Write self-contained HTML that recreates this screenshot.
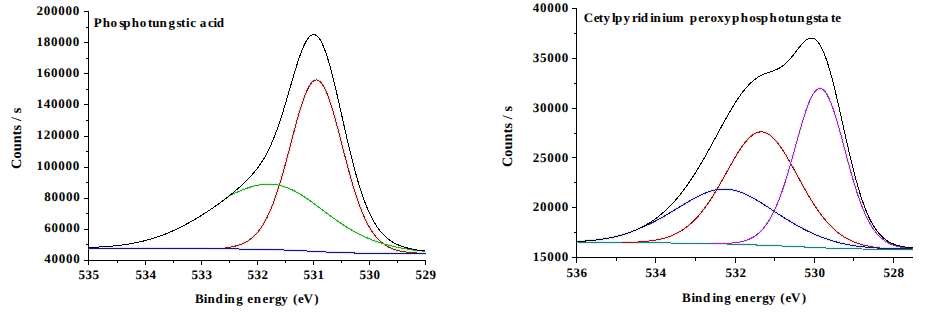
<!DOCTYPE html>
<html><head><meta charset="utf-8"><style>
html,body{margin:0;padding:0;background:#fff;width:928px;height:312px;overflow:hidden}
svg{display:block}
text{font-family:"Liberation Serif",serif;font-weight:bold}
</style></head><body>
<svg width="928" height="312" viewBox="0 0 928 312" text-rendering="geometricPrecision">
<rect width="928" height="312" fill="#fff"/>
<g shape-rendering="crispEdges">
<line x1="88.5" y1="11" x2="88.5" y2="261" stroke="#000" stroke-width="1"/>
<line x1="88" y1="260.5" x2="425.5" y2="260.5" stroke="#000" stroke-width="1"/>
<line x1="84" y1="11.5" x2="88" y2="11.5" stroke="#000" stroke-width="1"/>
<line x1="86" y1="27.5" x2="88" y2="27.5" stroke="#000" stroke-width="1"/>
<line x1="84" y1="42.5" x2="88" y2="42.5" stroke="#000" stroke-width="1"/>
<line x1="86" y1="58.5" x2="88" y2="58.5" stroke="#000" stroke-width="1"/>
<line x1="84" y1="73.5" x2="88" y2="73.5" stroke="#000" stroke-width="1"/>
<line x1="86" y1="89.5" x2="88" y2="89.5" stroke="#000" stroke-width="1"/>
<line x1="84" y1="104.5" x2="88" y2="104.5" stroke="#000" stroke-width="1"/>
<line x1="86" y1="120.5" x2="88" y2="120.5" stroke="#000" stroke-width="1"/>
<line x1="84" y1="136.5" x2="88" y2="136.5" stroke="#000" stroke-width="1"/>
<line x1="86" y1="151.5" x2="88" y2="151.5" stroke="#000" stroke-width="1"/>
<line x1="84" y1="167.5" x2="88" y2="167.5" stroke="#000" stroke-width="1"/>
<line x1="86" y1="182.5" x2="88" y2="182.5" stroke="#000" stroke-width="1"/>
<line x1="84" y1="198.5" x2="88" y2="198.5" stroke="#000" stroke-width="1"/>
<line x1="86" y1="213.5" x2="88" y2="213.5" stroke="#000" stroke-width="1"/>
<line x1="84" y1="229.5" x2="88" y2="229.5" stroke="#000" stroke-width="1"/>
<line x1="86" y1="244.5" x2="88" y2="244.5" stroke="#000" stroke-width="1"/>
<line x1="84" y1="260.5" x2="88" y2="260.5" stroke="#000" stroke-width="1"/>
<line x1="88.5" y1="261" x2="88.5" y2="265" stroke="#000" stroke-width="1"/>
<line x1="145.5" y1="261" x2="145.5" y2="265" stroke="#000" stroke-width="1"/>
<line x1="201.5" y1="261" x2="201.5" y2="265" stroke="#000" stroke-width="1"/>
<line x1="257.5" y1="261" x2="257.5" y2="265" stroke="#000" stroke-width="1"/>
<line x1="313.5" y1="261" x2="313.5" y2="265" stroke="#000" stroke-width="1"/>
<line x1="369.5" y1="261" x2="369.5" y2="265" stroke="#000" stroke-width="1"/>
<line x1="425.5" y1="261" x2="425.5" y2="265" stroke="#000" stroke-width="1"/>
<line x1="117.5" y1="261" x2="117.5" y2="263" stroke="#000" stroke-width="1"/>
<line x1="173.5" y1="261" x2="173.5" y2="263" stroke="#000" stroke-width="1"/>
<line x1="229.5" y1="261" x2="229.5" y2="263" stroke="#000" stroke-width="1"/>
<line x1="285.5" y1="261" x2="285.5" y2="263" stroke="#000" stroke-width="1"/>
<line x1="341.5" y1="261" x2="341.5" y2="263" stroke="#000" stroke-width="1"/>
<line x1="397.5" y1="261" x2="397.5" y2="263" stroke="#000" stroke-width="1"/>
<line x1="576.5" y1="8" x2="576.5" y2="258" stroke="#000" stroke-width="1"/>
<line x1="576" y1="257.5" x2="913" y2="257.5" stroke="#000" stroke-width="1"/>
<line x1="572" y1="8.5" x2="576" y2="8.5" stroke="#000" stroke-width="1"/>
<line x1="574" y1="33.5" x2="576" y2="33.5" stroke="#000" stroke-width="1"/>
<line x1="572" y1="58.5" x2="576" y2="58.5" stroke="#000" stroke-width="1"/>
<line x1="574" y1="83.5" x2="576" y2="83.5" stroke="#000" stroke-width="1"/>
<line x1="572" y1="108.5" x2="576" y2="108.5" stroke="#000" stroke-width="1"/>
<line x1="574" y1="133.5" x2="576" y2="133.5" stroke="#000" stroke-width="1"/>
<line x1="572" y1="157.5" x2="576" y2="157.5" stroke="#000" stroke-width="1"/>
<line x1="574" y1="182.5" x2="576" y2="182.5" stroke="#000" stroke-width="1"/>
<line x1="572" y1="207.5" x2="576" y2="207.5" stroke="#000" stroke-width="1"/>
<line x1="574" y1="232.5" x2="576" y2="232.5" stroke="#000" stroke-width="1"/>
<line x1="572" y1="257.5" x2="576" y2="257.5" stroke="#000" stroke-width="1"/>
<line x1="576.5" y1="258" x2="576.5" y2="263" stroke="#000" stroke-width="1"/>
<line x1="655.5" y1="258" x2="655.5" y2="263" stroke="#000" stroke-width="1"/>
<line x1="735.5" y1="258" x2="735.5" y2="263" stroke="#000" stroke-width="1"/>
<line x1="814.5" y1="258" x2="814.5" y2="263" stroke="#000" stroke-width="1"/>
<line x1="893.5" y1="258" x2="893.5" y2="263" stroke="#000" stroke-width="1"/>
<line x1="616.5" y1="258" x2="616.5" y2="261" stroke="#000" stroke-width="1"/>
<line x1="695.5" y1="258" x2="695.5" y2="261" stroke="#000" stroke-width="1"/>
<line x1="774.5" y1="258" x2="774.5" y2="261" stroke="#000" stroke-width="1"/>
<line x1="853.5" y1="258" x2="853.5" y2="261" stroke="#000" stroke-width="1"/>
</g>
<g fill="none" stroke-width="3" stroke-linejoin="round" opacity="0.45">
<path d="M225.00 247.70L225.50 247.65L226.00 247.60L226.50 247.55L227.00 247.49L227.50 247.44L228.00 247.37L228.50 247.31L229.00 247.24L229.50 247.17L230.00 247.10L230.50 247.02L231.00 246.94L231.50 246.85L232.00 246.76L232.50 246.67L233.00 246.58L233.50 246.47L234.00 246.37L234.50 246.26L235.00 246.15L235.50 246.03L236.00 245.90L236.50 245.77L237.00 245.64L237.50 245.50L238.00 245.35L238.50 245.20L239.00 245.04L239.50 244.87L240.00 244.70L240.50 244.52L241.00 244.34L241.50 244.14L242.00 243.94L242.50 243.73L243.00 243.52L243.50 243.29L244.00 243.06L244.50 242.82L245.00 242.56L245.50 242.30L246.00 242.03L246.50 241.75L247.00 241.46L247.50 241.16L248.00 240.85L248.50 240.52L249.00 240.19L249.50 239.84L250.00 239.48L250.50 239.11L251.00 238.73L251.50 238.33L252.00 237.92L252.50 237.49L253.00 237.05L253.50 236.60L254.00 236.13L254.50 235.64L255.00 235.14L255.50 234.63L256.00 234.09L256.50 233.54L257.00 232.98L257.50 232.39L258.00 231.79L258.50 231.17L259.00 230.53L259.50 229.87L260.00 229.19L260.50 228.49L261.00 227.77L261.50 227.03L262.00 226.27L262.50 225.49L263.00 224.68L263.50 223.86L264.00 223.01L264.50 222.14L265.00 221.25L265.50 220.33L266.00 219.39L266.50 218.43L267.00 217.44L267.50 216.43L268.00 215.39L268.50 214.33L269.00 213.24L269.50 212.13L270.00 210.99L270.50 209.83L271.00 208.64L271.50 207.43L272.00 206.19L272.50 204.93L273.00 203.64L273.50 202.32L274.00 200.98L274.50 199.62L275.00 198.22L275.50 196.81L276.00 195.36L276.50 193.90L277.00 192.41L277.50 190.89L278.00 189.35L278.50 187.79L279.00 186.20L279.50 184.59L280.00 182.96L280.50 181.31L281.00 179.64L281.50 177.94L282.00 176.23L282.50 174.49L283.00 172.74L283.50 170.97L284.00 169.18L284.50 167.38L285.00 165.56L285.50 163.73L286.00 161.89L286.50 160.03L287.00 158.16L287.50 156.28L288.00 154.40L288.50 152.50L289.00 150.60L289.50 148.70L290.00 146.79L290.50 144.88L291.00 142.96L291.50 141.05L292.00 139.14L292.50 137.23L293.00 135.33L293.50 133.43L294.00 131.55L294.50 129.67L295.00 127.80L295.50 125.94L296.00 124.10L296.50 122.28L297.00 120.47L297.50 118.68L298.00 116.92L298.50 115.17L299.00 113.45L299.50 111.75L300.00 110.09L300.50 108.45L301.00 106.84L301.50 105.27L302.00 103.73L302.50 102.22L303.00 100.75L303.50 99.33L304.00 97.94L304.50 96.59L305.00 95.29L305.50 94.03L306.00 92.82L306.50 91.65L307.00 90.54L307.50 89.47L308.00 88.46L308.50 87.49L309.00 86.58L309.50 85.73L310.00 84.93L310.50 84.19L311.00 83.50L311.50 82.88L312.00 82.31L312.50 81.80L313.00 81.35L313.50 80.97L314.00 80.64L314.50 80.38L315.00 80.18L315.50 80.04L316.00 79.96L316.50 79.94L317.00 79.99L317.50 80.10L318.00 80.27L318.50 80.51L319.00 80.81L319.50 81.17L320.00 81.59L320.50 82.07L321.00 82.61L321.50 83.21L322.00 83.87L322.50 84.59L323.00 85.36L323.50 86.20L324.00 87.08L324.50 88.03L325.00 89.02L325.50 90.07L326.00 91.17L326.50 92.32L327.00 93.52L327.50 94.77L328.00 96.06L328.50 97.40L329.00 98.78L329.50 100.21L330.00 101.67L330.50 103.18L331.00 104.72L331.50 106.29L332.00 107.90L332.50 109.55L333.00 111.22L333.50 112.92L334.00 114.66L334.50 116.41L335.00 118.19L335.50 120.00L336.00 121.82L336.50 123.67L337.00 125.53L337.50 127.41L338.00 129.30L338.50 131.20L339.00 133.12L339.50 135.05L340.00 136.98L340.50 138.92L341.00 140.86L341.50 142.81L342.00 144.76L342.50 146.71L343.00 148.66L343.50 150.61L344.00 152.55L344.50 154.49L345.00 156.42L345.50 158.34L346.00 160.26L346.50 162.16L347.00 164.05L347.50 165.94L348.00 167.80L348.50 169.66L349.00 171.50L349.50 173.32L350.00 175.12L350.50 176.91L351.00 178.68L351.50 180.43L352.00 182.16L352.50 183.86L353.00 185.55L353.50 187.22L354.00 188.86L354.50 190.48L355.00 192.07L355.50 193.65L356.00 195.19L356.50 196.72L357.00 198.22L357.50 199.69L358.00 201.14L358.50 202.56L359.00 203.96L359.50 205.33L360.00 206.67L360.50 207.99L361.00 209.29L361.50 210.55L362.00 211.80L362.50 213.01L363.00 214.20L363.50 215.36L364.00 216.50L364.50 217.62L365.00 218.70L365.50 219.77L366.00 220.80L366.50 221.82L367.00 222.81L367.50 223.77L368.00 224.71L368.50 225.63L369.00 226.52L369.50 227.39L370.00 228.24L370.50 229.07L371.00 229.87L371.50 230.65L372.00 231.41L372.50 232.15L373.00 232.87L373.50 233.57L374.00 234.25L374.50 234.91L375.00 235.55L375.50 236.17L376.00 236.78L376.50 237.36L377.00 237.93L377.50 238.48L378.00 239.01L378.50 239.53L379.00 240.03L379.50 240.52L380.00 240.99L380.50 241.45L381.00 241.89L381.50 242.31L382.00 242.73L382.50 243.13L383.00 243.51L383.50 243.89L384.00 244.25L384.50 244.60L385.00 244.94L385.50 245.26L386.00 245.58L386.50 245.88L387.00 246.17L387.50 246.46L388.00 246.73L388.50 246.99L389.00 247.25L389.50 247.50L390.00 247.73L390.50 247.96L391.00 248.18L391.50 248.39L392.00 248.60L392.50 248.79L393.00 248.98L393.50 249.17L394.00 249.34L394.50 249.51L395.00 249.67L395.50 249.83L396.00 249.98L396.50 250.13L397.00 250.27L397.50 250.40L398.00 250.53L398.50 250.65L399.00 250.77L399.50 250.89L400.00 250.99L400.50 251.10L401.00 251.20L401.50 251.30L402.00 251.39L402.50 251.48L403.00 251.57L403.50 251.65L404.00 251.73L404.50 251.80L405.00 251.88L405.50 251.95L406.00 252.01L406.50 252.08L407.00 252.14L407.50 252.20L408.00 252.25L408.50 252.31L409.00 252.36L409.50 252.41L410.00 252.45L410.50 252.50L411.00 252.54L411.50 252.58L412.00 252.62L412.50 252.66L413.00 252.70L413.50 252.73L414.00 252.76L414.50 252.80L415.00 252.82L415.50 252.85L416.00 252.88L416.50 252.91" stroke="#f0b0b0"/>
<path d="M222.00 201.36L222.50 200.99L223.00 200.62L223.50 200.24L224.00 199.87L224.50 199.49L225.00 199.11L225.50 198.73L226.00 198.34L226.50 197.96L227.00 197.57L227.50 197.18L228.00 196.79L228.50 196.44L229.00 196.11L229.50 195.80L230.00 195.49L230.50 195.20L231.00 194.91L231.50 194.64L232.00 194.38L232.50 194.13L233.00 193.89L233.50 193.66L234.00 193.45L234.50 193.26L235.00 193.07L235.50 192.90L236.00 192.75L236.50 192.52L237.00 192.29L237.50 192.06L238.00 191.83L238.50 191.61L239.00 191.38L239.50 191.16L240.00 190.95L240.50 190.73L241.00 190.52L241.50 190.31L242.00 190.10L242.50 189.90L243.00 189.70L243.50 189.50L244.00 189.30L244.50 189.11L245.00 188.92L245.50 188.73L246.00 188.55L246.50 188.36L247.00 188.19L247.50 188.01L248.00 187.84L248.50 187.67L249.00 187.50L249.50 187.34L250.00 187.18L250.50 187.03L251.00 186.88L251.50 186.73L252.00 186.58L252.50 186.44L253.00 186.30L253.50 186.17L254.00 186.04L254.50 185.92L255.00 185.79L255.50 185.67L256.00 185.56L256.50 185.45L257.00 185.34L257.50 185.24L258.00 185.14L258.50 185.05L259.00 184.96L259.50 184.88L260.00 184.80L260.50 184.72L261.00 184.65L261.50 184.58L262.00 184.52L262.50 184.46L263.00 184.40L263.50 184.35L264.00 184.31L264.50 184.27L265.00 184.23L265.50 184.20L266.00 184.18L266.50 184.16L267.00 184.14L267.50 184.13L268.00 184.12L268.50 184.12L269.00 184.12L269.50 184.13L270.00 184.15L270.50 184.17L271.00 184.19L271.50 184.22L272.00 184.25L272.50 184.29L273.00 184.33L273.50 184.38L274.00 184.44L274.50 184.50L275.00 184.56L275.50 184.63L276.00 184.71L276.50 184.79L277.00 184.87L277.50 184.96L278.00 185.06L278.50 185.16L279.00 185.26L279.50 185.38L280.00 185.49L280.50 185.61L281.00 185.74L281.50 185.87L282.00 186.01L282.50 186.15L283.00 186.30L283.50 186.45L284.00 186.61L284.50 186.77L285.00 186.94L285.50 187.11L286.00 187.29L286.50 187.47L287.00 187.66L287.50 187.85L288.00 188.05L288.50 188.25L289.00 188.46L289.50 188.67L290.00 188.89L290.50 189.11L291.00 189.33L291.50 189.56L292.00 189.80L292.50 190.03L293.00 190.28L293.50 190.53L294.00 190.78L294.50 191.03L295.00 191.29L295.50 191.56L296.00 191.83L296.50 192.10L297.00 192.38L297.50 192.66L298.00 192.94L298.50 193.23L299.00 193.52L299.50 193.82L300.00 194.12L300.50 194.42L301.00 194.73L301.50 195.04L302.00 195.35L302.50 195.66L303.00 195.98L303.50 196.30L304.00 196.63L304.50 196.96L305.00 197.29L305.50 197.62L306.00 197.96L306.50 198.30L307.00 198.64L307.50 198.98L308.00 199.33L308.50 199.67L309.00 200.03L309.50 200.38L310.00 200.73L310.50 201.09L311.00 201.45L311.50 201.81L312.00 202.17L312.50 202.53L313.00 202.90L313.50 203.26L314.00 203.63L314.50 204.00L315.00 204.37L315.50 204.74L316.00 205.11L316.50 205.48L317.00 205.86L317.50 206.23L318.00 206.61L318.50 206.98L319.00 207.36L319.50 207.73L320.00 208.11L320.50 208.49L321.00 208.87L321.50 209.24L322.00 209.62L322.50 210.00L323.00 210.38L323.50 210.75L324.00 211.13L324.50 211.51L325.00 211.89L325.50 212.26L326.00 212.64L326.50 213.01L327.00 213.39L327.50 213.76L328.00 214.13L328.50 214.51L329.00 214.88L329.50 215.25L330.00 215.62L330.50 215.99L331.00 216.35L331.50 216.72L332.00 217.09L332.50 217.45L333.00 217.81L333.50 218.17L334.00 218.53L334.50 218.89L335.00 219.25L335.50 219.60L336.00 219.96L336.50 220.31L337.00 220.66L337.50 221.01L338.00 221.35L338.50 221.70L339.00 222.04L339.50 222.38L340.00 222.72L340.50 223.06L341.00 223.40L341.50 223.73L342.00 224.06L342.50 224.39L343.00 224.72L343.50 225.05L344.00 225.37L344.50 225.69L345.00 226.01L345.50 226.33L346.00 226.64L346.50 226.96L347.00 227.27L347.50 227.57L348.00 227.88L348.50 228.18L349.00 228.49L349.50 228.79L350.00 229.08L350.50 229.38L351.00 229.67L351.50 229.96L352.00 230.25L352.50 230.53L353.00 230.82L353.50 231.10L354.00 231.38L354.50 231.65L355.00 231.93L355.50 232.20L356.00 232.47L356.50 232.73L357.00 233.00L357.50 233.26L358.00 233.52L358.50 233.78L359.00 234.03L359.50 234.29L360.00 234.54L360.50 234.78L361.00 235.03L361.50 235.27L362.00 235.52L362.50 235.75L363.00 235.99L363.50 236.22L364.00 236.46L364.50 236.69L365.00 236.91L365.50 237.14L366.00 237.36L366.50 237.58L367.00 237.80L367.50 238.02L368.00 238.23L368.50 238.44L369.00 238.65L369.50 238.86L370.00 239.06L370.50 239.27L371.00 239.47L371.50 239.67L372.00 239.86L372.50 240.06L373.00 240.25L373.50 240.44L374.00 240.63L374.50 240.81L375.00 241.00L375.50 241.18L376.00 241.36L376.50 241.54L377.00 241.71L377.50 241.89L378.00 242.06L378.50 242.23L379.00 242.39L379.50 242.56L380.00 242.72L380.50 242.89L381.00 243.05L381.50 243.20L382.00 243.36L382.50 243.51L383.00 243.67L383.50 243.82L384.00 243.97L384.50 244.11L385.00 244.26L385.50 244.40L386.00 244.54L386.50 244.68L387.00 244.82L387.50 244.96L388.00 245.09L388.50 245.23L389.00 245.36L389.50 245.49L390.00 245.61L390.50 245.74L391.00 245.87L391.50 245.99L392.00 246.11L392.50 246.23L393.00 246.35L393.50 246.46L394.00 246.58L394.50 246.69L395.00 246.81L395.50 246.92L396.00 247.03L396.50 247.13L397.00 247.24L397.50 247.34L398.00 247.45L398.50 247.55L399.00 247.65L399.50 247.75L400.00 247.85L400.50 247.94L401.00 248.04L401.50 248.13L402.00 248.22L402.50 248.31L403.00 248.40L403.50 248.49L404.00 248.58L404.50 248.66L405.00 248.75L405.50 248.83L406.00 248.91L406.50 248.99L407.00 249.07L407.50 249.15L408.00 249.23L408.50 249.31L409.00 249.38L409.50 249.46L410.00 249.53L410.50 249.60L411.00 249.67L411.50 249.74L412.00 249.81L412.50 249.87L413.00 249.94L413.50 250.01L414.00 250.07L414.50 250.13L415.00 250.20L415.50 250.26L416.00 250.32L416.50 250.38L417.00 250.43L417.50 250.49L418.00 250.55L418.50 250.60L419.00 250.66L419.50 250.71L420.00 250.76L420.50 250.82L421.00 250.87L421.50 250.92L422.00 250.97L422.50 251.01L423.00 251.06L423.50 251.11L424.00 251.16L424.50 251.20L425.00 251.24L425.50 251.29" stroke="#a8eca8"/>
<path d="M88.50 248.27L89.00 248.27L89.50 248.27L90.00 248.27L90.50 248.27L91.00 248.27L91.50 248.27L92.00 248.27L92.50 248.27L93.00 248.27L93.50 248.27L94.00 248.27L94.50 248.27L95.00 248.27L95.50 248.27L96.00 248.27L96.50 248.27L97.00 248.27L97.50 248.27L98.00 248.27L98.50 248.27L99.00 248.27L99.50 248.27L100.00 248.27L100.50 248.27L101.00 248.27L101.50 248.27L102.00 248.27L102.50 248.27L103.00 248.27L103.50 248.27L104.00 248.27L104.50 248.27L105.00 248.27L105.50 248.27L106.00 248.27L106.50 248.27L107.00 248.27L107.50 248.27L108.00 248.27L108.50 248.27L109.00 248.27L109.50 248.27L110.00 248.27L110.50 248.27L111.00 248.27L111.50 248.28L112.00 248.28L112.50 248.28L113.00 248.28L113.50 248.28L114.00 248.28L114.50 248.28L115.00 248.28L115.50 248.28L116.00 248.28L116.50 248.28L117.00 248.28L117.50 248.28L118.00 248.28L118.50 248.28L119.00 248.28L119.50 248.28L120.00 248.28L120.50 248.28L121.00 248.28L121.50 248.28L122.00 248.28L122.50 248.28L123.00 248.28L123.50 248.28L124.00 248.28L124.50 248.28L125.00 248.28L125.50 248.28L126.00 248.29L126.50 248.29L127.00 248.29L127.50 248.29L128.00 248.29L128.50 248.29L129.00 248.29L129.50 248.29L130.00 248.29L130.50 248.29L131.00 248.29L131.50 248.29L132.00 248.29L132.50 248.29L133.00 248.29L133.50 248.29L134.00 248.29L134.50 248.29L135.00 248.30L135.50 248.30L136.00 248.30L136.50 248.30L137.00 248.30L137.50 248.30L138.00 248.30L138.50 248.30L139.00 248.30L139.50 248.30L140.00 248.30L140.50 248.30L141.00 248.30L141.50 248.30L142.00 248.31L142.50 248.31L143.00 248.31L143.50 248.31L144.00 248.31L144.50 248.31L145.00 248.31L145.50 248.31L146.00 248.31L146.50 248.31L147.00 248.31L147.50 248.32L148.00 248.32L148.50 248.32L149.00 248.32L149.50 248.32L150.00 248.32L150.50 248.32L151.00 248.32L151.50 248.32L152.00 248.33L152.50 248.33L153.00 248.33L153.50 248.33L154.00 248.33L154.50 248.33L155.00 248.33L155.50 248.33L156.00 248.34L156.50 248.34L157.00 248.34L157.50 248.34L158.00 248.34L158.50 248.34L159.00 248.34L159.50 248.35L160.00 248.35L160.50 248.35L161.00 248.35L161.50 248.35L162.00 248.35L162.50 248.35L163.00 248.36L163.50 248.36L164.00 248.36L164.50 248.36L165.00 248.36L165.50 248.36L166.00 248.37L166.50 248.37L167.00 248.37L167.50 248.37L168.00 248.37L168.50 248.38L169.00 248.38L169.50 248.38L170.00 248.38L170.50 248.38L171.00 248.39L171.50 248.39L172.00 248.39L172.50 248.39L173.00 248.39L173.50 248.40L174.00 248.40L174.50 248.40L175.00 248.40L175.50 248.41L176.00 248.41L176.50 248.41L177.00 248.41L177.50 248.42L178.00 248.42L178.50 248.42L179.00 248.42L179.50 248.43L180.00 248.43L180.50 248.43L181.00 248.43L181.50 248.44L182.00 248.44L182.50 248.44L183.00 248.44L183.50 248.45L184.00 248.45L184.50 248.45L185.00 248.46L185.50 248.46L186.00 248.46L186.50 248.46L187.00 248.47L187.50 248.47L188.00 248.47L188.50 248.48L189.00 248.48L189.50 248.48L190.00 248.49L190.50 248.49L191.00 248.49L191.50 248.50L192.00 248.50L192.50 248.50L193.00 248.51L193.50 248.51L194.00 248.51L194.50 248.52L195.00 248.52L195.50 248.53L196.00 248.53L196.50 248.53L197.00 248.54L197.50 248.54L198.00 248.54L198.50 248.55L199.00 248.55L199.50 248.56L200.00 248.56L200.50 248.56L201.00 248.57L201.50 248.57L202.00 248.58L202.50 248.58L203.00 248.59L203.50 248.59L204.00 248.59L204.50 248.60L205.00 248.60L205.50 248.61L206.00 248.61L206.50 248.62L207.00 248.62L207.50 248.63L208.00 248.63L208.50 248.64L209.00 248.64L209.50 248.65L210.00 248.65L210.50 248.66L211.00 248.66L211.50 248.67L212.00 248.67L212.50 248.68L213.00 248.68L213.50 248.69L214.00 248.69L214.50 248.70L215.00 248.70L215.50 248.71L216.00 248.71L216.50 248.72L217.00 248.72L217.50 248.73L218.00 248.73L218.50 248.74L219.00 248.75L219.50 248.75L220.00 248.76L220.50 248.76L221.00 248.77L221.50 248.77L222.00 248.78L222.50 248.79L223.00 248.79L223.50 248.80L224.00 248.80L224.50 248.81L225.00 248.82L225.50 248.82L226.00 248.83L226.50 248.84L227.00 248.84L227.50 248.85L228.00 248.85L228.50 248.86L229.00 248.87L229.50 248.87L230.00 248.88L230.50 248.89L231.00 248.89L231.50 248.90L232.00 248.91L232.50 248.91L233.00 248.92L233.50 248.93L234.00 248.94L234.50 248.94L235.00 248.95L235.50 248.96L236.00 248.96L236.50 248.97L237.00 248.98L237.50 248.99L238.00 248.99L238.50 249.00L239.00 249.01L239.50 249.02L240.00 249.02L240.50 249.03L241.00 249.04L241.50 249.05L242.00 249.05L242.50 249.06L243.00 249.07L243.50 249.08L244.00 249.09L244.50 249.09L245.00 249.10L245.50 249.11L246.00 249.12L246.50 249.13L247.00 249.13L247.50 249.14L248.00 249.15L248.50 249.16L249.00 249.17L249.50 249.18L250.00 249.19L250.50 249.19L251.00 249.20L251.50 249.21L252.00 249.22L252.50 249.23L253.00 249.24L253.50 249.25L254.00 249.26L254.50 249.27L255.00 249.28L255.50 249.29L256.00 249.30L256.50 249.31L257.00 249.31L257.50 249.32L258.00 249.33L258.50 249.34L259.00 249.35L259.50 249.36L260.00 249.37L260.50 249.39L261.00 249.40L261.50 249.41L262.00 249.42L262.50 249.43L263.00 249.44L263.50 249.45L264.00 249.46L264.50 249.47L265.00 249.48L265.50 249.49L266.00 249.51L266.50 249.52L267.00 249.53L267.50 249.54L268.00 249.55L268.50 249.57L269.00 249.58L269.50 249.59L270.00 249.60L270.50 249.62L271.00 249.63L271.50 249.64L272.00 249.65L272.50 249.67L273.00 249.68L273.50 249.69L274.00 249.71L274.50 249.72L275.00 249.74L275.50 249.75L276.00 249.76L276.50 249.78L277.00 249.79L277.50 249.81L278.00 249.82L278.50 249.84L279.00 249.85L279.50 249.87L280.00 249.89L280.50 249.90L281.00 249.92L281.50 249.93L282.00 249.95L282.50 249.97L283.00 249.98L283.50 250.00L284.00 250.02L284.50 250.04L285.00 250.05L285.50 250.07L286.00 250.09L286.50 250.11L287.00 250.13L287.50 250.15L288.00 250.16L288.50 250.18L289.00 250.20L289.50 250.22L290.00 250.24L290.50 250.26L291.00 250.28L291.50 250.30L292.00 250.32L292.50 250.34L293.00 250.37L293.50 250.39L294.00 250.41L294.50 250.43L295.00 250.45L295.50 250.47L296.00 250.50L296.50 250.52L297.00 250.54L297.50 250.56L298.00 250.59L298.50 250.61L299.00 250.63L299.50 250.66L300.00 250.68L300.50 250.70L301.00 250.73L301.50 250.75L302.00 250.78L302.50 250.80L303.00 250.83L303.50 250.85L304.00 250.88L304.50 250.90L305.00 250.93L305.50 250.95L306.00 250.98L306.50 251.00L307.00 251.03L307.50 251.05L308.00 251.08L308.50 251.11L309.00 251.13L309.50 251.16L310.00 251.18L310.50 251.21L311.00 251.24L311.50 251.26L312.00 251.29L312.50 251.32L313.00 251.34L313.50 251.37L314.00 251.40L314.50 251.42L315.00 251.45L315.50 251.47L316.00 251.50L316.50 251.53L317.00 251.55L317.50 251.58L318.00 251.61L318.50 251.63L319.00 251.66L319.50 251.68L320.00 251.71L320.50 251.74L321.00 251.76L321.50 251.79L322.00 251.81L322.50 251.84L323.00 251.86L323.50 251.89L324.00 251.91L324.50 251.94L325.00 251.96L325.50 251.99L326.00 252.01L326.50 252.04L327.00 252.06L327.50 252.08L328.00 252.11L328.50 252.13L329.00 252.15L329.50 252.18L330.00 252.20L330.50 252.22L331.00 252.25L331.50 252.27L332.00 252.29L332.50 252.31L333.00 252.33L333.50 252.35L334.00 252.37L334.50 252.40L335.00 252.42L335.50 252.44L336.00 252.46L336.50 252.48L337.00 252.49L337.50 252.51L338.00 252.53L338.50 252.55L339.00 252.57L339.50 252.59L340.00 252.61L340.50 252.62L341.00 252.64L341.50 252.66L342.00 252.67L342.50 252.69L343.00 252.71L343.50 252.72L344.00 252.74L344.50 252.75L345.00 252.77L345.50 252.78L346.00 252.80L346.50 252.81L347.00 252.83L347.50 252.84L348.00 252.85L348.50 252.87L349.00 252.88L349.50 252.89L350.00 252.90L350.50 252.92L351.00 252.93L351.50 252.94L352.00 252.95L352.50 252.96L353.00 252.97L353.50 252.98L354.00 252.99L354.50 253.01L355.00 253.02L355.50 253.03L356.00 253.03L356.50 253.04L357.00 253.05L357.50 253.06L358.00 253.07L358.50 253.08L359.00 253.09L359.50 253.10L360.00 253.10L360.50 253.11L361.00 253.12L361.50 253.13L362.00 253.13L362.50 253.14L363.00 253.15L363.50 253.16L364.00 253.16L364.50 253.17L365.00 253.17L365.50 253.18L366.00 253.19L366.50 253.19L367.00 253.20L367.50 253.20L368.00 253.21L368.50 253.21L369.00 253.22L369.50 253.22L370.00 253.23L370.50 253.23L371.00 253.24L371.50 253.24L372.00 253.25L372.50 253.25L373.00 253.26L373.50 253.26L374.00 253.26L374.50 253.27L375.00 253.27L375.50 253.27L376.00 253.28L376.50 253.28L377.00 253.28L377.50 253.29L378.00 253.29L378.50 253.29L379.00 253.30L379.50 253.30L380.00 253.30L380.50 253.30L381.00 253.31L381.50 253.31L382.00 253.31L382.50 253.31L383.00 253.32L383.50 253.32L384.00 253.32L384.50 253.32L385.00 253.33L385.50 253.33L386.00 253.33L386.50 253.33L387.00 253.33L387.50 253.34L388.00 253.34L388.50 253.34L389.00 253.34L389.50 253.34L390.00 253.34L390.50 253.35L391.00 253.35L391.50 253.35L392.00 253.35L392.50 253.35L393.00 253.35L393.50 253.35L394.00 253.36L394.50 253.36L395.00 253.36L395.50 253.36L396.00 253.36L396.50 253.36L397.00 253.36L397.50 253.36L398.00 253.36L398.50 253.37L399.00 253.37L399.50 253.37L400.00 253.37L400.50 253.37L401.00 253.37L401.50 253.37L402.00 253.37L402.50 253.37L403.00 253.37L403.50 253.37L404.00 253.37L404.50 253.38L405.00 253.38L405.50 253.38L406.00 253.38L406.50 253.38L407.00 253.38L407.50 253.38L408.00 253.38L408.50 253.38L409.00 253.38L409.50 253.38L410.00 253.38L410.50 253.38L411.00 253.38L411.50 253.38L412.00 253.38L412.50 253.38L413.00 253.39L413.50 253.39L414.00 253.39L414.50 253.39L415.00 253.39L415.50 253.39L416.00 253.39L416.50 253.39L417.00 253.39L417.50 253.39L418.00 253.39L418.50 253.39L419.00 253.39L419.50 253.39L420.00 253.39L420.50 253.39L421.00 253.39L421.50 253.39L422.00 253.39L422.50 253.39L423.00 253.39L423.50 253.39L424.00 253.39L424.50 253.39L425.00 253.39L425.50 253.39" stroke="#c0c0f0"/>
<path d="M577.50 242.73L578.00 242.73L578.50 242.73L579.00 242.73L579.50 242.73L580.00 242.73L580.50 242.73L581.00 242.73L581.50 242.73L582.00 242.73L582.50 242.73L583.00 242.73L583.50 242.73L584.00 242.73L584.50 242.73L585.00 242.73L585.50 242.73L586.00 242.73L586.50 242.73L587.00 242.73L587.50 242.74L588.00 242.74L588.50 242.74L589.00 242.74L589.50 242.74L590.00 242.74L590.50 242.74L591.00 242.74L591.50 242.74L592.00 242.74L592.50 242.74L593.00 242.74L593.50 242.74L594.00 242.74L594.50 242.74L595.00 242.74L595.50 242.74L596.00 242.74L596.50 242.74L597.00 242.74L597.50 242.74L598.00 242.74L598.50 242.74L599.00 242.74L599.50 242.74L600.00 242.74L600.50 242.74L601.00 242.75L601.50 242.75L602.00 242.75L602.50 242.75L603.00 242.75L603.50 242.75L604.00 242.75L604.50 242.75L605.00 242.75L605.50 242.75L606.00 242.75L606.50 242.75L607.00 242.75L607.50 242.75L608.00 242.75L608.50 242.75L609.00 242.75L609.50 242.75L610.00 242.75L610.50 242.76L611.00 242.76L611.50 242.76L612.00 242.76L612.50 242.76L613.00 242.76L613.50 242.76L614.00 242.76L614.50 242.76L615.00 242.76L615.50 242.76L616.00 242.76L616.50 242.76L617.00 242.77L617.50 242.77L618.00 242.77L618.50 242.77L619.00 242.77L619.50 242.77L620.00 242.77L620.50 242.77L621.00 242.77L621.50 242.77L622.00 242.77L622.50 242.78L623.00 242.78L623.50 242.78L624.00 242.78L624.50 242.78L625.00 242.78L625.50 242.78L626.00 242.78L626.50 242.78L627.00 242.79L627.50 242.79L628.00 242.79L628.50 242.79L629.00 242.79L629.50 242.79L630.00 242.79L630.50 242.79L631.00 242.80L631.50 242.80L632.00 242.80L632.50 242.80L633.00 242.80L633.50 242.80L634.00 242.80L634.50 242.80L635.00 242.81L635.50 242.81L636.00 242.81L636.50 242.81L637.00 242.81L637.50 242.81L638.00 242.82L638.50 242.82L639.00 242.82L639.50 242.82L640.00 242.82L640.50 242.82L641.00 242.83L641.50 242.83L642.00 242.83L642.50 242.83L643.00 242.83L643.50 242.84L644.00 242.84L644.50 242.84L645.00 242.84L645.50 242.84L646.00 242.85L646.50 242.85L647.00 242.85L647.50 242.85L648.00 242.85L648.50 242.86L649.00 242.86L649.50 242.86L650.00 242.86L650.50 242.87L651.00 242.87L651.50 242.87L652.00 242.87L652.50 242.88L653.00 242.88L653.50 242.88L654.00 242.88L654.50 242.89L655.00 242.89L655.50 242.89L656.00 242.90L656.50 242.90L657.00 242.90L657.50 242.90L658.00 242.91L658.50 242.91L659.00 242.91L659.50 242.92L660.00 242.92L660.50 242.92L661.00 242.93L661.50 242.93L662.00 242.93L662.50 242.94L663.00 242.94L663.50 242.94L664.00 242.95L664.50 242.95L665.00 242.95L665.50 242.96L666.00 242.96L666.50 242.97L667.00 242.97L667.50 242.97L668.00 242.98L668.50 242.98L669.00 242.99L669.50 242.99L670.00 242.99L670.50 243.00L671.00 243.00L671.50 243.01L672.00 243.01L672.50 243.02L673.00 243.02L673.50 243.03L674.00 243.03L674.50 243.03L675.00 243.04L675.50 243.04L676.00 243.05L676.50 243.05L677.00 243.06L677.50 243.06L678.00 243.07L678.50 243.07L679.00 243.08L679.50 243.09L680.00 243.09L680.50 243.10L681.00 243.10L681.50 243.11L682.00 243.11L682.50 243.12L683.00 243.13L683.50 243.13L684.00 243.14L684.50 243.14L685.00 243.15L685.50 243.16L686.00 243.16L686.50 243.17L687.00 243.18L687.50 243.18L688.00 243.19L688.50 243.20L689.00 243.20L689.50 243.21L690.00 243.22L690.50 243.22L691.00 243.23L691.50 243.24L692.00 243.24L692.50 243.25L693.00 243.26L693.50 243.27L694.00 243.27L694.50 243.28L695.00 243.29L695.50 243.30L696.00 243.31L696.50 243.31L697.00 243.32L697.50 243.33L698.00 243.34L698.50 243.35L699.00 243.36L699.50 243.37L700.00 243.37L700.50 243.38L701.00 243.39L701.50 243.40L702.00 243.41L702.50 243.42L703.00 243.43L703.50 243.44L704.00 243.45L704.50 243.46L705.00 243.47L705.50 243.48L706.00 243.49L706.50 243.50L707.00 243.51L707.50 243.52L708.00 243.53L708.50 243.54L709.00 243.55L709.50 243.56L710.00 243.57L710.50 243.58L711.00 243.59L711.50 243.60L712.00 243.61L712.50 243.63L713.00 243.64L713.50 243.65L714.00 243.66L714.50 243.67L715.00 243.68L715.50 243.70L716.00 243.71L716.50 243.72L717.00 243.73L717.50 243.75L718.00 243.76L718.50 243.77L719.00 243.78L719.50 243.80L720.00 243.81L720.50 243.82L721.00 243.84L721.50 243.85L722.00 243.86L722.50 243.88L723.00 243.89L723.50 243.90L724.00 243.92L724.50 243.93L725.00 243.94L725.50 243.96L726.00 243.97L726.50 243.99L727.00 244.00L727.50 244.02L728.00 244.03L728.50 244.05L729.00 244.06L729.50 244.08L730.00 244.09L730.50 244.11L731.00 244.12L731.50 244.14L732.00 244.15L732.50 244.17L733.00 244.18L733.50 244.20L734.00 244.22L734.50 244.23L735.00 244.25L735.50 244.26L736.00 244.28L736.50 244.30L737.00 244.31L737.50 244.33L738.00 244.35L738.50 244.36L739.00 244.38L739.50 244.40L740.00 244.41L740.50 244.43L741.00 244.45L741.50 244.46L742.00 244.48L742.50 244.50L743.00 244.52L743.50 244.53L744.00 244.55L744.50 244.57L745.00 244.59L745.50 244.60L746.00 244.62L746.50 244.64L747.00 244.66L747.50 244.68L748.00 244.69L748.50 244.71L749.00 244.73L749.50 244.75L750.00 244.77L750.50 244.79L751.00 244.80L751.50 244.82L752.00 244.84L752.50 244.86L753.00 244.88L753.50 244.90L754.00 244.92L754.50 244.93L755.00 244.95L755.50 244.97L756.00 244.99L756.50 245.01L757.00 245.03L757.50 245.05L758.00 245.07L758.50 245.09L759.00 245.11L759.50 245.12L760.00 245.14L760.50 245.16L761.00 245.18L761.50 245.20L762.00 245.22L762.50 245.24L763.00 245.26L763.50 245.28L764.00 245.30L764.50 245.32L765.00 245.34L765.50 245.36L766.00 245.38L766.50 245.40L767.00 245.42L767.50 245.44L768.00 245.46L768.50 245.48L769.00 245.49L769.50 245.51L770.00 245.53L770.50 245.55L771.00 245.57L771.50 245.59L772.00 245.61L772.50 245.63L773.00 245.65L773.50 245.67L774.00 245.69L774.50 245.71L775.00 245.73L775.50 245.75L776.00 245.77L776.50 245.79L777.00 245.81L777.50 245.83L778.00 245.85L778.50 245.87L779.00 245.89L779.50 245.92L780.00 245.94L780.50 245.96L781.00 245.98L781.50 246.00L782.00 246.02L782.50 246.04L783.00 246.06L783.50 246.08L784.00 246.10L784.50 246.12L785.00 246.14L785.50 246.16L786.00 246.18L786.50 246.20L787.00 246.23L787.50 246.25L788.00 246.27L788.50 246.29L789.00 246.31L789.50 246.33L790.00 246.35L790.50 246.38L791.00 246.40L791.50 246.42L792.00 246.44L792.50 246.46L793.00 246.48L793.50 246.51L794.00 246.53L794.50 246.55L795.00 246.57L795.50 246.60L796.00 246.62L796.50 246.64L797.00 246.66L797.50 246.69L798.00 246.71L798.50 246.73L799.00 246.75L799.50 246.78L800.00 246.80L800.50 246.82L801.00 246.85L801.50 246.87L802.00 246.89L802.50 246.92L803.00 246.94L803.50 246.96L804.00 246.99L804.50 247.01L805.00 247.03L805.50 247.06L806.00 247.08L806.50 247.11L807.00 247.13L807.50 247.15L808.00 247.18L808.50 247.20L809.00 247.22L809.50 247.25L810.00 247.27L810.50 247.30L811.00 247.32L811.50 247.35L812.00 247.37L812.50 247.39L813.00 247.42L813.50 247.44L814.00 247.47L814.50 247.49L815.00 247.51L815.50 247.54L816.00 247.56L816.50 247.59L817.00 247.61L817.50 247.63L818.00 247.66L818.50 247.68L819.00 247.70L819.50 247.73L820.00 247.75L820.50 247.77L821.00 247.80L821.50 247.82L822.00 247.84L822.50 247.87L823.00 247.89L823.50 247.91L824.00 247.93L824.50 247.96L825.00 247.98L825.50 248.00L826.00 248.02L826.50 248.04L827.00 248.06L827.50 248.09L828.00 248.11L828.50 248.13L829.00 248.15L829.50 248.17L830.00 248.19L830.50 248.21L831.00 248.23L831.50 248.25L832.00 248.27L832.50 248.29L833.00 248.31L833.50 248.33L834.00 248.34L834.50 248.36L835.00 248.38L835.50 248.40L836.00 248.42L836.50 248.43L837.00 248.45L837.50 248.47L838.00 248.48L838.50 248.50L839.00 248.52L839.50 248.53L840.00 248.55L840.50 248.56L841.00 248.58L841.50 248.59L842.00 248.61L842.50 248.62L843.00 248.64L843.50 248.65L844.00 248.66L844.50 248.68L845.00 248.69L845.50 248.70L846.00 248.72L846.50 248.73L847.00 248.74L847.50 248.75L848.00 248.76L848.50 248.78L849.00 248.79L849.50 248.80L850.00 248.81L850.50 248.82L851.00 248.83L851.50 248.84L852.00 248.85L852.50 248.86L853.00 248.87L853.50 248.88L854.00 248.89L854.50 248.89L855.00 248.90L855.50 248.91L856.00 248.92L856.50 248.93L857.00 248.93L857.50 248.94L858.00 248.95L858.50 248.96L859.00 248.96L859.50 248.97L860.00 248.97L860.50 248.98L861.00 248.99L861.50 248.99L862.00 249.00L862.50 249.00L863.00 249.01L863.50 249.02L864.00 249.02L864.50 249.03L865.00 249.03L865.50 249.03L866.00 249.04L866.50 249.04L867.00 249.05L867.50 249.05L868.00 249.06L868.50 249.06L869.00 249.06L869.50 249.07L870.00 249.07L870.50 249.07L871.00 249.08L871.50 249.08L872.00 249.08L872.50 249.09L873.00 249.09L873.50 249.09L874.00 249.10L874.50 249.10L875.00 249.10L875.50 249.10L876.00 249.11L876.50 249.11L877.00 249.11L877.50 249.11L878.00 249.11L878.50 249.12L879.00 249.12L879.50 249.12L880.00 249.12L880.50 249.12L881.00 249.12L881.50 249.13L882.00 249.13L882.50 249.13L883.00 249.13L883.50 249.13L884.00 249.13L884.50 249.13L885.00 249.14L885.50 249.14L886.00 249.14L886.50 249.14L887.00 249.14L887.50 249.14L888.00 249.14L888.50 249.14L889.00 249.14L889.50 249.14L890.00 249.15L890.50 249.15L891.00 249.15L891.50 249.15L892.00 249.15L892.50 249.15L893.00 249.15L893.50 249.15L894.00 249.15L894.50 249.15L895.00 249.15L895.50 249.15L896.00 249.15L896.50 249.15L897.00 249.15L897.50 249.15L898.00 249.15L898.50 249.15L899.00 249.16L899.50 249.16L900.00 249.16L900.50 249.16L901.00 249.16L901.50 249.16L902.00 249.16L902.50 249.16L903.00 249.16L903.50 249.16L904.00 249.16L904.50 249.16L905.00 249.16L905.50 249.16L906.00 249.16L906.50 249.16L907.00 249.16L907.50 249.16L908.00 249.16L908.50 249.16L909.00 249.16L909.50 249.16L910.00 249.16L910.50 249.16L911.00 249.16L911.50 249.16L912.00 249.16L912.50 249.16L913.00 249.16" stroke="#b0e8e8"/>
<path d="M622.50 242.54L623.00 242.53L623.50 242.52L624.00 242.51L624.50 242.50L625.00 242.49L625.50 242.48L626.00 242.47L626.50 242.46L627.00 242.44L627.50 242.43L628.00 242.42L628.50 242.40L629.00 242.39L629.50 242.37L630.00 242.36L630.50 242.34L631.00 242.32L631.50 242.30L632.00 242.29L632.50 242.27L633.00 242.25L633.50 242.23L634.00 242.20L634.50 242.18L635.00 242.16L635.50 242.14L636.00 242.11L636.50 242.09L637.00 242.06L637.50 242.03L638.00 242.00L638.50 241.97L639.00 241.94L639.50 241.91L640.00 241.88L640.50 241.84L641.00 241.81L641.50 241.77L642.00 241.74L642.50 241.70L643.00 241.66L643.50 241.62L644.00 241.57L644.50 241.53L645.00 241.48L645.50 241.44L646.00 241.39L646.50 241.34L647.00 241.29L647.50 241.23L648.00 241.18L648.50 241.12L649.00 241.06L649.50 241.00L650.00 240.94L650.50 240.88L651.00 240.81L651.50 240.74L652.00 240.67L652.50 240.60L653.00 240.52L653.50 240.45L654.00 240.37L654.50 240.29L655.00 240.20L655.50 240.12L656.00 240.03L656.50 239.93L657.00 239.84L657.50 239.74L658.00 239.64L658.50 239.54L659.00 239.44L659.50 239.33L660.00 239.22L660.50 239.10L661.00 238.99L661.50 238.87L662.00 238.74L662.50 238.61L663.00 238.48L663.50 238.35L664.00 238.21L664.50 238.07L665.00 237.93L665.50 237.78L666.00 237.63L666.50 237.47L667.00 237.31L667.50 237.14L668.00 236.98L668.50 236.80L669.00 236.63L669.50 236.45L670.00 236.26L670.50 236.07L671.00 235.88L671.50 235.68L672.00 235.47L672.50 235.26L673.00 235.05L673.50 234.83L674.00 234.61L674.50 234.38L675.00 234.14L675.50 233.90L676.00 233.66L676.50 233.41L677.00 233.15L677.50 232.89L678.00 232.62L678.50 232.35L679.00 232.07L679.50 231.79L680.00 231.49L680.50 231.20L681.00 230.89L681.50 230.58L682.00 230.27L682.50 229.94L683.00 229.62L683.50 229.28L684.00 228.94L684.50 228.59L685.00 228.23L685.50 227.87L686.00 227.50L686.50 227.12L687.00 226.74L687.50 226.35L688.00 225.95L688.50 225.54L689.00 225.13L689.50 224.71L690.00 224.28L690.50 223.84L691.00 223.40L691.50 222.95L692.00 222.49L692.50 222.02L693.00 221.54L693.50 221.06L694.00 220.57L694.50 220.07L695.00 219.56L695.50 219.05L696.00 218.52L696.50 217.99L697.00 217.45L697.50 216.90L698.00 216.34L698.50 215.78L699.00 215.21L699.50 214.62L700.00 214.03L700.50 213.43L701.00 212.83L701.50 212.21L702.00 211.59L702.50 210.96L703.00 210.32L703.50 209.67L704.00 209.01L704.50 208.35L705.00 207.67L705.50 206.99L706.00 206.30L706.50 205.60L707.00 204.90L707.50 204.18L708.00 203.46L708.50 202.73L709.00 202.00L709.50 201.25L710.00 200.50L710.50 199.74L711.00 198.97L711.50 198.20L712.00 197.42L712.50 196.63L713.00 195.83L713.50 195.03L714.00 194.22L714.50 193.41L715.00 192.59L715.50 191.76L716.00 190.93L716.50 190.09L717.00 189.25L717.50 188.40L718.00 187.55L718.50 186.69L719.00 185.83L719.50 184.96L720.00 184.09L720.50 183.21L721.00 182.34L721.50 181.45L722.00 180.57L722.50 179.68L723.00 178.79L723.50 177.90L724.00 177.01L724.50 176.11L725.00 175.21L725.50 174.32L726.00 173.42L726.50 172.52L727.00 171.62L727.50 170.72L728.00 169.83L728.50 168.93L729.00 168.04L729.50 167.14L730.00 166.25L730.50 165.37L731.00 164.48L731.50 163.60L732.00 162.72L732.50 161.85L733.00 160.98L733.50 160.12L734.00 159.26L734.50 158.41L735.00 157.56L735.50 156.73L736.00 155.89L736.50 155.07L737.00 154.25L737.50 153.45L738.00 152.65L738.50 151.86L739.00 151.08L739.50 150.31L740.00 149.55L740.50 148.80L741.00 148.06L741.50 147.34L742.00 146.63L742.50 145.92L743.00 145.24L743.50 144.56L744.00 143.90L744.50 143.26L745.00 142.62L745.50 142.01L746.00 141.40L746.50 140.82L747.00 140.25L747.50 139.69L748.00 139.16L748.50 138.63L749.00 138.13L749.50 137.65L750.00 137.18L750.50 136.73L751.00 136.30L751.50 135.88L752.00 135.49L752.50 135.12L753.00 134.76L753.50 134.43L754.00 134.11L754.50 133.82L755.00 133.54L755.50 133.29L756.00 133.06L756.50 132.84L757.00 132.65L757.50 132.48L758.00 132.33L758.50 132.21L759.00 132.10L759.50 132.01L760.00 131.95L760.50 131.91L761.00 131.89L761.50 131.89L762.00 131.91L762.50 131.96L763.00 132.02L763.50 132.11L764.00 132.22L764.50 132.35L765.00 132.50L765.50 132.68L766.00 132.87L766.50 133.09L767.00 133.32L767.50 133.58L768.00 133.86L768.50 134.16L769.00 134.47L769.50 134.81L770.00 135.17L770.50 135.55L771.00 135.95L771.50 136.36L772.00 136.80L772.50 137.25L773.00 137.72L773.50 138.21L774.00 138.72L774.50 139.25L775.00 139.79L775.50 140.35L776.00 140.92L776.50 141.51L777.00 142.12L777.50 142.74L778.00 143.38L778.50 144.04L779.00 144.70L779.50 145.38L780.00 146.08L780.50 146.79L781.00 147.51L781.50 148.24L782.00 148.99L782.50 149.74L783.00 150.51L783.50 151.29L784.00 152.08L784.50 152.88L785.00 153.69L785.50 154.51L786.00 155.33L786.50 156.17L787.00 157.01L787.50 157.86L788.00 158.72L788.50 159.58L789.00 160.46L789.50 161.33L790.00 162.22L790.50 163.10L791.00 164.00L791.50 164.89L792.00 165.79L792.50 166.70L793.00 167.61L793.50 168.52L794.00 169.43L794.50 170.34L795.00 171.26L795.50 172.18L796.00 173.10L796.50 174.02L797.00 174.94L797.50 175.86L798.00 176.78L798.50 177.70L799.00 178.62L799.50 179.54L800.00 180.45L800.50 181.37L801.00 182.28L801.50 183.19L802.00 184.10L802.50 185.00L803.00 185.90L803.50 186.80L804.00 187.69L804.50 188.58L805.00 189.47L805.50 190.35L806.00 191.23L806.50 192.10L807.00 192.96L807.50 193.83L808.00 194.68L808.50 195.53L809.00 196.38L809.50 197.22L810.00 198.05L810.50 198.88L811.00 199.70L811.50 200.51L812.00 201.32L812.50 202.12L813.00 202.91L813.50 203.70L814.00 204.48L814.50 205.25L815.00 206.01L815.50 206.77L816.00 207.52L816.50 208.26L817.00 209.00L817.50 209.72L818.00 210.44L818.50 211.15L819.00 211.86L819.50 212.55L820.00 213.24L820.50 213.92L821.00 214.59L821.50 215.25L822.00 215.90L822.50 216.55L823.00 217.19L823.50 217.82L824.00 218.44L824.50 219.05L825.00 219.66L825.50 220.25L826.00 220.84L826.50 221.42L827.00 221.99L827.50 222.56L828.00 223.11L828.50 223.66L829.00 224.20L829.50 224.73L830.00 225.25L830.50 225.77L831.00 226.27L831.50 226.77L832.00 227.26L832.50 227.75L833.00 228.22L833.50 228.69L834.00 229.15L834.50 229.60L835.00 230.05L835.50 230.48L836.00 230.91L836.50 231.34L837.00 231.75L837.50 232.16L838.00 232.56L838.50 232.95L839.00 233.34L839.50 233.71L840.00 234.09L840.50 234.45L841.00 234.81L841.50 235.16L842.00 235.50L842.50 235.84L843.00 236.17L843.50 236.50L844.00 236.82L844.50 237.13L845.00 237.43L845.50 237.73L846.00 238.03L846.50 238.31L847.00 238.59L847.50 238.87L848.00 239.14L848.50 239.40L849.00 239.66L849.50 239.91L850.00 240.16L850.50 240.40L851.00 240.64L851.50 240.87L852.00 241.10L852.50 241.32L853.00 241.54L853.50 241.75L854.00 241.95L854.50 242.16L855.00 242.35L855.50 242.54L856.00 242.73L856.50 242.92L857.00 243.10L857.50 243.27L858.00 243.44L858.50 243.61L859.00 243.77L859.50 243.93L860.00 244.08L860.50 244.23L861.00 244.38L861.50 244.52L862.00 244.66L862.50 244.80L863.00 244.93L863.50 245.06L864.00 245.18L864.50 245.31L865.00 245.43L865.50 245.54L866.00 245.65L866.50 245.76L867.00 245.87L867.50 245.98L868.00 246.08L868.50 246.18L869.00 246.27L869.50 246.36L870.00 246.45L870.50 246.54L871.00 246.63L871.50 246.71L872.00 246.79L872.50 246.87L873.00 246.95L873.50 247.02L874.00 247.09L874.50 247.16L875.00 247.23L875.50 247.29L876.00 247.36L876.50 247.42L877.00 247.48L877.50 247.54L878.00 247.59L878.50 247.65L879.00 247.70L879.50 247.75L880.00 247.80" stroke="#f0b0b0"/>
<path d="M710.00 243.48L710.50 243.49L711.00 243.49L711.50 243.50L712.00 243.50L712.50 243.50L713.00 243.51L713.50 243.51L714.00 243.51L714.50 243.52L715.00 243.52L715.50 243.52L716.00 243.52L716.50 243.52L717.00 243.52L717.50 243.52L718.00 243.52L718.50 243.52L719.00 243.52L719.50 243.51L720.00 243.51L720.50 243.51L721.00 243.50L721.50 243.49L722.00 243.49L722.50 243.48L723.00 243.47L723.50 243.46L724.00 243.45L724.50 243.43L725.00 243.42L725.50 243.40L726.00 243.39L726.50 243.37L727.00 243.35L727.50 243.33L728.00 243.30L728.50 243.28L729.00 243.25L729.50 243.22L730.00 243.19L730.50 243.16L731.00 243.12L731.50 243.08L732.00 243.04L732.50 243.00L733.00 242.96L733.50 242.91L734.00 242.86L734.50 242.80L735.00 242.75L735.50 242.69L736.00 242.62L736.50 242.55L737.00 242.48L737.50 242.41L738.00 242.33L738.50 242.25L739.00 242.16L739.50 242.07L740.00 241.97L740.50 241.87L741.00 241.77L741.50 241.66L742.00 241.54L742.50 241.42L743.00 241.30L743.50 241.16L744.00 241.02L744.50 240.88L745.00 240.73L745.50 240.57L746.00 240.41L746.50 240.23L747.00 240.05L747.50 239.87L748.00 239.67L748.50 239.47L749.00 239.26L749.50 239.04L750.00 238.81L750.50 238.57L751.00 238.33L751.50 238.07L752.00 237.80L752.50 237.53L753.00 237.24L753.50 236.94L754.00 236.63L754.50 236.31L755.00 235.98L755.50 235.63L756.00 235.28L756.50 234.91L757.00 234.52L757.50 234.13L758.00 233.72L758.50 233.29L759.00 232.85L759.50 232.40L760.00 231.93L760.50 231.45L761.00 230.95L761.50 230.43L762.00 229.90L762.50 229.35L763.00 228.78L763.50 228.20L764.00 227.60L764.50 226.98L765.00 226.34L765.50 225.68L766.00 225.00L766.50 224.31L767.00 223.59L767.50 222.85L768.00 222.09L768.50 221.31L769.00 220.51L769.50 219.69L770.00 218.85L770.50 217.98L771.00 217.09L771.50 216.18L772.00 215.24L772.50 214.29L773.00 213.30L773.50 212.30L774.00 211.27L774.50 210.22L775.00 209.14L775.50 208.04L776.00 206.91L776.50 205.76L777.00 204.59L777.50 203.39L778.00 202.16L778.50 200.92L779.00 199.64L779.50 198.34L780.00 197.02L780.50 195.68L781.00 194.31L781.50 192.91L782.00 191.49L782.50 190.05L783.00 188.59L783.50 187.10L784.00 185.59L784.50 184.06L785.00 182.51L785.50 180.94L786.00 179.35L786.50 177.73L787.00 176.10L787.50 174.45L788.00 172.78L788.50 171.10L789.00 169.40L789.50 167.68L790.00 165.95L790.50 164.21L791.00 162.45L791.50 160.69L792.00 158.91L792.50 157.12L793.00 155.33L793.50 153.53L794.00 151.72L794.50 149.91L795.00 148.10L795.50 146.29L796.00 144.47L796.50 142.66L797.00 140.85L797.50 139.04L798.00 137.24L798.50 135.45L799.00 133.67L799.50 131.90L800.00 130.14L800.50 128.40L801.00 126.67L801.50 124.96L802.00 123.26L802.50 121.59L803.00 119.94L803.50 118.32L804.00 116.72L804.50 115.15L805.00 113.61L805.50 112.10L806.00 110.62L806.50 109.18L807.00 107.78L807.50 106.41L808.00 105.08L808.50 103.79L809.00 102.55L809.50 101.35L810.00 100.19L810.50 99.08L811.00 98.02L811.50 97.01L812.00 96.05L812.50 95.14L813.00 94.29L813.50 93.49L814.00 92.75L814.50 92.06L815.00 91.43L815.50 90.86L816.00 90.34L816.50 89.89L817.00 89.50L817.50 89.17L818.00 88.90L818.50 88.69L819.00 88.54L819.50 88.46L820.00 88.44L820.50 88.48L821.00 88.58L821.50 88.75L822.00 88.98L822.50 89.27L823.00 89.62L823.50 90.04L824.00 90.51L824.50 91.05L825.00 91.65L825.50 92.30L826.00 93.01L826.50 93.79L827.00 94.61L827.50 95.50L828.00 96.43L828.50 97.43L829.00 98.47L829.50 99.56L830.00 100.71L830.50 101.90L831.00 103.14L831.50 104.43L832.00 105.75L832.50 107.13L833.00 108.54L833.50 109.99L834.00 111.48L834.50 113.01L835.00 114.57L835.50 116.16L836.00 117.78L836.50 119.44L837.00 121.12L837.50 122.82L838.00 124.55L838.50 126.30L839.00 128.08L839.50 129.87L840.00 131.67L840.50 133.50L841.00 135.33L841.50 137.18L842.00 139.04L842.50 140.91L843.00 142.78L843.50 144.66L844.00 146.54L844.50 148.43L845.00 150.31L845.50 152.19L846.00 154.07L846.50 155.95L847.00 157.82L847.50 159.69L848.00 161.54L848.50 163.39L849.00 165.23L849.50 167.05L850.00 168.86L850.50 170.66L851.00 172.45L851.50 174.21L852.00 175.96L852.50 177.70L853.00 179.41L853.50 181.11L854.00 182.78L854.50 184.44L855.00 186.07L855.50 187.68L856.00 189.27L856.50 190.84L857.00 192.38L857.50 193.90L858.00 195.39L858.50 196.86L859.00 198.31L859.50 199.72L860.00 201.12L860.50 202.49L861.00 203.83L861.50 205.14L862.00 206.43L862.50 207.70L863.00 208.94L863.50 210.15L864.00 211.33L864.50 212.49L865.00 213.63L865.50 214.74L866.00 215.82L866.50 216.88L867.00 217.91L867.50 218.92L868.00 219.90L868.50 220.86L869.00 221.79L869.50 222.70L870.00 223.59L870.50 224.45L871.00 225.29L871.50 226.10L872.00 226.90L872.50 227.67L873.00 228.42L873.50 229.15L874.00 229.86L874.50 230.55L875.00 231.22L875.50 231.86L876.00 232.49L876.50 233.10L877.00 233.69L877.50 234.27L878.00 234.82L878.50 235.36L879.00 235.88L879.50 236.38L880.00 236.87L880.50 237.34L881.00 237.80L881.50 238.24L882.00 238.67L882.50 239.08L883.00 239.48L883.50 239.86L884.00 240.24L884.50 240.59L885.00 240.94L885.50 241.27L886.00 241.60L886.50 241.91L887.00 242.21L887.50 242.50L888.00 242.77L888.50 243.04L889.00 243.30L889.50 243.55L890.00 243.79L890.50 244.02L891.00 244.24L891.50 244.45L892.00 244.66L892.50 244.86L893.00 245.05L893.50 245.23L894.00 245.40L894.50 245.57L895.00 245.73L895.50 245.89L896.00 246.04L896.50 246.18L897.00 246.31L897.50 246.45L898.00 246.57L898.50 246.69L899.00 246.81L899.50 246.92L900.00 247.02L900.50 247.13L901.00 247.22L901.50 247.32L902.00 247.41L902.50 247.49L903.00 247.57L903.50 247.65L904.00 247.72L904.50 247.79L905.00 247.86L905.50 247.93L906.00 247.99L906.50 248.05L907.00 248.10L907.50 248.16L908.00 248.21L908.50 248.26L909.00 248.31L909.50 248.35L910.00 248.39L910.50 248.43L911.00 248.47L911.50 248.51L912.00 248.54L912.50 248.58L913.00 248.61" stroke="#e8b4f8"/>
<path d="M577.50 241.56L578.00 241.53L578.50 241.50L579.00 241.47L579.50 241.44L580.00 241.41L580.50 241.37L581.00 241.34L581.50 241.31L582.00 241.27L582.50 241.24L583.00 241.20L583.50 241.17L584.00 241.13L584.50 241.09L585.00 241.05L585.50 241.01L586.00 240.97L586.50 240.93L587.00 240.89L587.50 240.85L588.00 240.80L588.50 240.76L589.00 240.71L589.50 240.67L590.00 240.62L590.50 240.57L591.00 240.52L591.50 240.47L592.00 240.42L592.50 240.37L593.00 240.32L593.50 240.26L594.00 240.21L594.50 240.15L595.00 240.10L595.50 240.04L596.00 239.98L596.50 239.92L597.00 239.86L597.50 239.79L598.00 239.73L598.50 239.66L599.00 239.60L599.50 239.53L600.00 239.46L600.50 239.39L601.00 239.32L601.50 239.25L602.00 239.17L602.50 239.10L603.00 239.02L603.50 238.94L604.00 238.87L604.50 238.78L605.00 238.70L605.50 238.62L606.00 238.53L606.50 238.45L607.00 238.36L607.50 238.27L608.00 238.18L608.50 238.09L609.00 237.99L609.50 237.90L610.00 237.80L610.50 237.70L611.00 237.60L611.50 237.50L612.00 237.39L612.50 237.29L613.00 237.18L613.50 237.07L614.00 236.96L614.50 236.85L615.00 236.73L615.50 236.61L616.00 236.49L616.50 236.37L617.00 236.25L617.50 236.13L618.00 236.00L618.50 235.87L619.00 235.74L619.50 235.61L620.00 235.47L620.50 235.34L621.00 235.20L621.50 235.06L622.00 234.91L622.50 234.77L623.00 234.62L623.50 234.47L624.00 234.32L624.50 234.16L625.00 234.01L625.50 233.85L626.00 233.68L626.50 233.52L627.00 233.35L627.50 233.18L628.00 233.01L628.50 232.84L629.00 232.66L629.50 232.48L630.00 232.30L630.50 232.11L631.00 231.93L631.50 231.73L632.00 231.54L632.50 231.34L633.00 231.13L633.50 230.93L634.00 230.72L634.50 230.51L635.00 230.30L635.50 230.09L636.00 229.88L636.50 229.67L637.00 229.45L637.50 229.24L638.00 229.03L638.50 228.81L639.00 228.60L639.50 228.38L640.00 228.17L640.50 227.95L641.00 227.74L641.50 227.52L642.00 227.31L642.50 227.09L643.00 226.88L643.50 226.67L644.00 226.46L644.50 226.25L645.00 226.05L645.50 225.84L646.00 225.64L646.50 225.41L647.00 225.18L647.50 224.94L648.00 224.71L648.50 224.47L649.00 224.23L649.50 223.99L650.00 223.75L650.50 223.50L651.00 223.26L651.50 223.01L652.00 222.76L652.50 222.51L653.00 222.26L653.50 222.00L654.00 221.74L654.50 221.49L655.00 221.23L655.50 220.97L656.00 220.70L656.50 220.44L657.00 220.17L657.50 219.91L658.00 219.64L658.50 219.37L659.00 219.09L659.50 218.82L660.00 218.55L660.50 218.27L661.00 217.99L661.50 217.71L662.00 217.43L662.50 217.15L663.00 216.87L663.50 216.58L664.00 216.30L664.50 216.01L665.00 215.72L665.50 215.43L666.00 215.14L666.50 214.85L667.00 214.56L667.50 214.27L668.00 213.97L668.50 213.68L669.00 213.38L669.50 213.08L670.00 212.78L670.50 212.49L671.00 212.19L671.50 211.89L672.00 211.58L672.50 211.28L673.00 210.98L673.50 210.68L674.00 210.37L674.50 210.07L675.00 209.77L675.50 209.46L676.00 209.16L676.50 208.85L677.00 208.55L677.50 208.24L678.00 207.93L678.50 207.63L679.00 207.32L679.50 207.02L680.00 206.71L680.50 206.41L681.00 206.10L681.50 205.80L682.00 205.49L682.50 205.19L683.00 204.88L683.50 204.58L684.00 204.28L684.50 203.98L685.00 203.68L685.50 203.38L686.00 203.08L686.50 202.78L687.00 202.48L687.50 202.19L688.00 201.89L688.50 201.60L689.00 201.31L689.50 201.02L690.00 200.73L690.50 200.44L691.00 200.15L691.50 199.87L692.00 199.59L692.50 199.31L693.00 199.03L693.50 198.75L694.00 198.48L694.50 198.21L695.00 197.94L695.50 197.67L696.00 197.41L696.50 197.15L697.00 196.89L697.50 196.63L698.00 196.38L698.50 196.13L699.00 195.88L699.50 195.64L700.00 195.40L700.50 195.16L701.00 194.92L701.50 194.69L702.00 194.47L702.50 194.24L703.00 194.02L703.50 193.81L704.00 193.59L704.50 193.39L705.00 193.18L705.50 192.98L706.00 192.78L706.50 192.59L707.00 192.41L707.50 192.22L708.00 192.04L708.50 191.87L709.00 191.70L709.50 191.54L710.00 191.38L710.50 191.22L711.00 191.07L711.50 190.93L712.00 190.79L712.50 190.65L713.00 190.52L713.50 190.40L714.00 190.28L714.50 190.16L715.00 190.06L715.50 189.95L716.00 189.85L716.50 189.76L717.00 189.68L717.50 189.59L718.00 189.52L718.50 189.45L719.00 189.39L719.50 189.33L720.00 189.28L720.50 189.23L721.00 189.19L721.50 189.15L722.00 189.13L722.50 189.10L723.00 189.08L723.50 189.07L724.00 189.07L724.50 189.07L725.00 189.08L725.50 189.09L726.00 189.11L726.50 189.13L727.00 189.16L727.50 189.20L728.00 189.24L728.50 189.29L729.00 189.34L729.50 189.40L730.00 189.47L730.50 189.54L731.00 189.62L731.50 189.70L732.00 189.79L732.50 189.88L733.00 189.98L733.50 190.09L734.00 190.20L734.50 190.32L735.00 190.44L735.50 190.57L736.00 190.70L736.50 190.84L737.00 190.98L737.50 191.13L738.00 191.29L738.50 191.45L739.00 191.61L739.50 191.78L740.00 191.96L740.50 192.13L741.00 192.32L741.50 192.51L742.00 192.70L742.50 192.90L743.00 193.10L743.50 193.31L744.00 193.52L744.50 193.74L745.00 193.96L745.50 194.18L746.00 194.41L746.50 194.64L747.00 194.88L747.50 195.12L748.00 195.36L748.50 195.61L749.00 195.86L749.50 196.11L750.00 196.37L750.50 196.63L751.00 196.90L751.50 197.17L752.00 197.44L752.50 197.71L753.00 197.99L753.50 198.27L754.00 198.55L754.50 198.83L755.00 199.12L755.50 199.41L756.00 199.70L756.50 200.00L757.00 200.29L757.50 200.59L758.00 200.89L758.50 201.20L759.00 201.50L759.50 201.81L760.00 202.12L760.50 202.43L761.00 202.74L761.50 203.05L762.00 203.37L762.50 203.68L763.00 204.00L763.50 204.32L764.00 204.64L764.50 204.96L765.00 205.28L765.50 205.60L766.00 205.93L766.50 206.25L767.00 206.57L767.50 206.90L768.00 207.23L768.50 207.55L769.00 207.88L769.50 208.21L770.00 208.53L770.50 208.86L771.00 209.19L771.50 209.52L772.00 209.85L772.50 210.18L773.00 210.50L773.50 210.83L774.00 211.16L774.50 211.49L775.00 211.82L775.50 212.14L776.00 212.47L776.50 212.80L777.00 213.13L777.50 213.45L778.00 213.78L778.50 214.10L779.00 214.43L779.50 214.75L780.00 215.07L780.50 215.39L781.00 215.72L781.50 216.04L782.00 216.36L782.50 216.68L783.00 216.99L783.50 217.31L784.00 217.63L784.50 217.94L785.00 218.26L785.50 218.57L786.00 218.88L786.50 219.19L787.00 219.50L787.50 219.81L788.00 220.12L788.50 220.43L789.00 220.73L789.50 221.04L790.00 221.34L790.50 221.64L791.00 221.94L791.50 222.24L792.00 222.54L792.50 222.83L793.00 223.13L793.50 223.42L794.00 223.71L794.50 224.00L795.00 224.29L795.50 224.58L796.00 224.86L796.50 225.15L797.00 225.43L797.50 225.71L798.00 225.99L798.50 226.27L799.00 226.54L799.50 226.82L800.00 227.09L800.50 227.36L801.00 227.63L801.50 227.90L802.00 228.16L802.50 228.43L803.00 228.69L803.50 228.95L804.00 229.21L804.50 229.47L805.00 229.73L805.50 229.98L806.00 230.23L806.50 230.48L807.00 230.73L807.50 230.98L808.00 231.22L808.50 231.47L809.00 231.71L809.50 231.95L810.00 232.19L810.50 232.42L811.00 232.66L811.50 232.89L812.00 233.12L812.50 233.35L813.00 233.57L813.50 233.80L814.00 234.02L814.50 234.24L815.00 234.46L815.50 234.68L816.00 234.89L816.50 235.10L817.00 235.32L817.50 235.52L818.00 235.73L818.50 235.94L819.00 236.14L819.50 236.34L820.00 236.54L820.50 236.74L821.00 236.93L821.50 237.13L822.00 237.32L822.50 237.51L823.00 237.70L823.50 237.88L824.00 238.07L824.50 238.25L825.00 238.43L825.50 238.61L826.00 238.78L826.50 238.95L827.00 239.13L827.50 239.30L828.00 239.46L828.50 239.63L829.00 239.79L829.50 239.96L830.00 240.12L830.50 240.27L831.00 240.43L831.50 240.58L832.00 240.74L832.50 240.89L833.00 241.04L833.50 241.18L834.00 241.33L834.50 241.47L835.00 241.61L835.50 241.75L836.00 241.89L836.50 242.02L837.00 242.15L837.50 242.29L838.00 242.42L838.50 242.54L839.00 242.67L839.50 242.79L840.00 242.92L840.50 243.04L841.00 243.15L841.50 243.27L842.00 243.39L842.50 243.50L843.00 243.61L843.50 243.72L844.00 243.83L844.50 243.94L845.00 244.04L845.50 244.15L846.00 244.25L846.50 244.35L847.00 244.45L847.50 244.54L848.00 244.64L848.50 244.73L849.00 244.82L849.50 244.91L850.00 245.00L850.50 245.09L851.00 245.18L851.50 245.26L852.00 245.34L852.50 245.42L853.00 245.50L853.50 245.58L854.00 245.66L854.50 245.74L855.00 245.81L855.50 245.88L856.00 245.96L856.50 246.03L857.00 246.10L857.50 246.16L858.00 246.23L858.50 246.30L859.00 246.36L859.50 246.42L860.00 246.49L860.50 246.55L861.00 246.61L861.50 246.66L862.00 246.72L862.50 246.78L863.00 246.83L863.50 246.89L864.00 246.94L864.50 246.99L865.00 247.04L865.50 247.09L866.00 247.14L866.50 247.19L867.00 247.23L867.50 247.28L868.00 247.33L868.50 247.37L869.00 247.41L869.50 247.45L870.00 247.50L870.50 247.54L871.00 247.58L871.50 247.61L872.00 247.65L872.50 247.69L873.00 247.73L873.50 247.76L874.00 247.80L874.50 247.83L875.00 247.86L875.50 247.89L876.00 247.93L876.50 247.96L877.00 247.99L877.50 248.02L878.00 248.05L878.50 248.07L879.00 248.10L879.50 248.13L880.00 248.16L880.50 248.18L881.00 248.21L881.50 248.23L882.00 248.26L882.50 248.28L883.00 248.30L883.50 248.33L884.00 248.35L884.50 248.37L885.00 248.39L885.50 248.41L886.00 248.43L886.50 248.45L887.00 248.47L887.50 248.49L888.00 248.50L888.50 248.52L889.00 248.54L889.50 248.56L890.00 248.57L890.50 248.59L891.00 248.60L891.50 248.62L892.00 248.63L892.50 248.65L893.00 248.66L893.50 248.68L894.00 248.69L894.50 248.70L895.00 248.72L895.50 248.73L896.00 248.74L896.50 248.75L897.00 248.76L897.50 248.78L898.00 248.79L898.50 248.80L899.00 248.81L899.50 248.82L900.00 248.83L900.50 248.84L901.00 248.85L901.50 248.86L902.00 248.86L902.50 248.87L903.00 248.88L903.50 248.89L904.00 248.90L904.50 248.91L905.00 248.91L905.50 248.92L906.00 248.93L906.50 248.93L907.00 248.94L907.50 248.95L908.00 248.95L908.50 248.96L909.00 248.97L909.50 248.97L910.00 248.98L910.50 248.98L911.00 248.99L911.50 248.99L912.00 249.00L912.50 249.00L913.00 249.01" stroke="#c0c0f0"/>
</g>
<g fill="none" stroke-width="1" stroke-linejoin="round" shape-rendering="crispEdges">
<path d="M225.00 247.70L225.50 247.65L226.00 247.60L226.50 247.55L227.00 247.49L227.50 247.44L228.00 247.37L228.50 247.31L229.00 247.24L229.50 247.17L230.00 247.10L230.50 247.02L231.00 246.94L231.50 246.85L232.00 246.76L232.50 246.67L233.00 246.58L233.50 246.47L234.00 246.37L234.50 246.26L235.00 246.15L235.50 246.03L236.00 245.90L236.50 245.77L237.00 245.64L237.50 245.50L238.00 245.35L238.50 245.20L239.00 245.04L239.50 244.87L240.00 244.70L240.50 244.52L241.00 244.34L241.50 244.14L242.00 243.94L242.50 243.73L243.00 243.52L243.50 243.29L244.00 243.06L244.50 242.82L245.00 242.56L245.50 242.30L246.00 242.03L246.50 241.75L247.00 241.46L247.50 241.16L248.00 240.85L248.50 240.52L249.00 240.19L249.50 239.84L250.00 239.48L250.50 239.11L251.00 238.73L251.50 238.33L252.00 237.92L252.50 237.49L253.00 237.05L253.50 236.60L254.00 236.13L254.50 235.64L255.00 235.14L255.50 234.63L256.00 234.09L256.50 233.54L257.00 232.98L257.50 232.39L258.00 231.79L258.50 231.17L259.00 230.53L259.50 229.87L260.00 229.19L260.50 228.49L261.00 227.77L261.50 227.03L262.00 226.27L262.50 225.49L263.00 224.68L263.50 223.86L264.00 223.01L264.50 222.14L265.00 221.25L265.50 220.33L266.00 219.39L266.50 218.43L267.00 217.44L267.50 216.43L268.00 215.39L268.50 214.33L269.00 213.24L269.50 212.13L270.00 210.99L270.50 209.83L271.00 208.64L271.50 207.43L272.00 206.19L272.50 204.93L273.00 203.64L273.50 202.32L274.00 200.98L274.50 199.62L275.00 198.22L275.50 196.81L276.00 195.36L276.50 193.90L277.00 192.41L277.50 190.89L278.00 189.35L278.50 187.79L279.00 186.20L279.50 184.59L280.00 182.96L280.50 181.31L281.00 179.64L281.50 177.94L282.00 176.23L282.50 174.49L283.00 172.74L283.50 170.97L284.00 169.18L284.50 167.38L285.00 165.56L285.50 163.73L286.00 161.89L286.50 160.03L287.00 158.16L287.50 156.28L288.00 154.40L288.50 152.50L289.00 150.60L289.50 148.70L290.00 146.79L290.50 144.88L291.00 142.96L291.50 141.05L292.00 139.14L292.50 137.23L293.00 135.33L293.50 133.43L294.00 131.55L294.50 129.67L295.00 127.80L295.50 125.94L296.00 124.10L296.50 122.28L297.00 120.47L297.50 118.68L298.00 116.92L298.50 115.17L299.00 113.45L299.50 111.75L300.00 110.09L300.50 108.45L301.00 106.84L301.50 105.27L302.00 103.73L302.50 102.22L303.00 100.75L303.50 99.33L304.00 97.94L304.50 96.59L305.00 95.29L305.50 94.03L306.00 92.82L306.50 91.65L307.00 90.54L307.50 89.47L308.00 88.46L308.50 87.49L309.00 86.58L309.50 85.73L310.00 84.93L310.50 84.19L311.00 83.50L311.50 82.88L312.00 82.31L312.50 81.80L313.00 81.35L313.50 80.97L314.00 80.64L314.50 80.38L315.00 80.18L315.50 80.04L316.00 79.96L316.50 79.94L317.00 79.99L317.50 80.10L318.00 80.27L318.50 80.51L319.00 80.81L319.50 81.17L320.00 81.59L320.50 82.07L321.00 82.61L321.50 83.21L322.00 83.87L322.50 84.59L323.00 85.36L323.50 86.20L324.00 87.08L324.50 88.03L325.00 89.02L325.50 90.07L326.00 91.17L326.50 92.32L327.00 93.52L327.50 94.77L328.00 96.06L328.50 97.40L329.00 98.78L329.50 100.21L330.00 101.67L330.50 103.18L331.00 104.72L331.50 106.29L332.00 107.90L332.50 109.55L333.00 111.22L333.50 112.92L334.00 114.66L334.50 116.41L335.00 118.19L335.50 120.00L336.00 121.82L336.50 123.67L337.00 125.53L337.50 127.41L338.00 129.30L338.50 131.20L339.00 133.12L339.50 135.05L340.00 136.98L340.50 138.92L341.00 140.86L341.50 142.81L342.00 144.76L342.50 146.71L343.00 148.66L343.50 150.61L344.00 152.55L344.50 154.49L345.00 156.42L345.50 158.34L346.00 160.26L346.50 162.16L347.00 164.05L347.50 165.94L348.00 167.80L348.50 169.66L349.00 171.50L349.50 173.32L350.00 175.12L350.50 176.91L351.00 178.68L351.50 180.43L352.00 182.16L352.50 183.86L353.00 185.55L353.50 187.22L354.00 188.86L354.50 190.48L355.00 192.07L355.50 193.65L356.00 195.19L356.50 196.72L357.00 198.22L357.50 199.69L358.00 201.14L358.50 202.56L359.00 203.96L359.50 205.33L360.00 206.67L360.50 207.99L361.00 209.29L361.50 210.55L362.00 211.80L362.50 213.01L363.00 214.20L363.50 215.36L364.00 216.50L364.50 217.62L365.00 218.70L365.50 219.77L366.00 220.80L366.50 221.82L367.00 222.81L367.50 223.77L368.00 224.71L368.50 225.63L369.00 226.52L369.50 227.39L370.00 228.24L370.50 229.07L371.00 229.87L371.50 230.65L372.00 231.41L372.50 232.15L373.00 232.87L373.50 233.57L374.00 234.25L374.50 234.91L375.00 235.55L375.50 236.17L376.00 236.78L376.50 237.36L377.00 237.93L377.50 238.48L378.00 239.01L378.50 239.53L379.00 240.03L379.50 240.52L380.00 240.99L380.50 241.45L381.00 241.89L381.50 242.31L382.00 242.73L382.50 243.13L383.00 243.51L383.50 243.89L384.00 244.25L384.50 244.60L385.00 244.94L385.50 245.26L386.00 245.58L386.50 245.88L387.00 246.17L387.50 246.46L388.00 246.73L388.50 246.99L389.00 247.25L389.50 247.50L390.00 247.73L390.50 247.96L391.00 248.18L391.50 248.39L392.00 248.60L392.50 248.79L393.00 248.98L393.50 249.17L394.00 249.34L394.50 249.51L395.00 249.67L395.50 249.83L396.00 249.98L396.50 250.13L397.00 250.27L397.50 250.40L398.00 250.53L398.50 250.65L399.00 250.77L399.50 250.89L400.00 250.99L400.50 251.10L401.00 251.20L401.50 251.30L402.00 251.39L402.50 251.48L403.00 251.57L403.50 251.65L404.00 251.73L404.50 251.80L405.00 251.88L405.50 251.95L406.00 252.01L406.50 252.08L407.00 252.14L407.50 252.20L408.00 252.25L408.50 252.31L409.00 252.36L409.50 252.41L410.00 252.45L410.50 252.50L411.00 252.54L411.50 252.58L412.00 252.62L412.50 252.66L413.00 252.70L413.50 252.73L414.00 252.76L414.50 252.80L415.00 252.82L415.50 252.85L416.00 252.88L416.50 252.91" stroke="#7a2222"/>
<path d="M222.00 201.36L222.50 200.99L223.00 200.62L223.50 200.24L224.00 199.87L224.50 199.49L225.00 199.11L225.50 198.73L226.00 198.34L226.50 197.96L227.00 197.57L227.50 197.18L228.00 196.79L228.50 196.44L229.00 196.11L229.50 195.80L230.00 195.49L230.50 195.20L231.00 194.91L231.50 194.64L232.00 194.38L232.50 194.13L233.00 193.89L233.50 193.66L234.00 193.45L234.50 193.26L235.00 193.07L235.50 192.90L236.00 192.75L236.50 192.52L237.00 192.29L237.50 192.06L238.00 191.83L238.50 191.61L239.00 191.38L239.50 191.16L240.00 190.95L240.50 190.73L241.00 190.52L241.50 190.31L242.00 190.10L242.50 189.90L243.00 189.70L243.50 189.50L244.00 189.30L244.50 189.11L245.00 188.92L245.50 188.73L246.00 188.55L246.50 188.36L247.00 188.19L247.50 188.01L248.00 187.84L248.50 187.67L249.00 187.50L249.50 187.34L250.00 187.18L250.50 187.03L251.00 186.88L251.50 186.73L252.00 186.58L252.50 186.44L253.00 186.30L253.50 186.17L254.00 186.04L254.50 185.92L255.00 185.79L255.50 185.67L256.00 185.56L256.50 185.45L257.00 185.34L257.50 185.24L258.00 185.14L258.50 185.05L259.00 184.96L259.50 184.88L260.00 184.80L260.50 184.72L261.00 184.65L261.50 184.58L262.00 184.52L262.50 184.46L263.00 184.40L263.50 184.35L264.00 184.31L264.50 184.27L265.00 184.23L265.50 184.20L266.00 184.18L266.50 184.16L267.00 184.14L267.50 184.13L268.00 184.12L268.50 184.12L269.00 184.12L269.50 184.13L270.00 184.15L270.50 184.17L271.00 184.19L271.50 184.22L272.00 184.25L272.50 184.29L273.00 184.33L273.50 184.38L274.00 184.44L274.50 184.50L275.00 184.56L275.50 184.63L276.00 184.71L276.50 184.79L277.00 184.87L277.50 184.96L278.00 185.06L278.50 185.16L279.00 185.26L279.50 185.38L280.00 185.49L280.50 185.61L281.00 185.74L281.50 185.87L282.00 186.01L282.50 186.15L283.00 186.30L283.50 186.45L284.00 186.61L284.50 186.77L285.00 186.94L285.50 187.11L286.00 187.29L286.50 187.47L287.00 187.66L287.50 187.85L288.00 188.05L288.50 188.25L289.00 188.46L289.50 188.67L290.00 188.89L290.50 189.11L291.00 189.33L291.50 189.56L292.00 189.80L292.50 190.03L293.00 190.28L293.50 190.53L294.00 190.78L294.50 191.03L295.00 191.29L295.50 191.56L296.00 191.83L296.50 192.10L297.00 192.38L297.50 192.66L298.00 192.94L298.50 193.23L299.00 193.52L299.50 193.82L300.00 194.12L300.50 194.42L301.00 194.73L301.50 195.04L302.00 195.35L302.50 195.66L303.00 195.98L303.50 196.30L304.00 196.63L304.50 196.96L305.00 197.29L305.50 197.62L306.00 197.96L306.50 198.30L307.00 198.64L307.50 198.98L308.00 199.33L308.50 199.67L309.00 200.03L309.50 200.38L310.00 200.73L310.50 201.09L311.00 201.45L311.50 201.81L312.00 202.17L312.50 202.53L313.00 202.90L313.50 203.26L314.00 203.63L314.50 204.00L315.00 204.37L315.50 204.74L316.00 205.11L316.50 205.48L317.00 205.86L317.50 206.23L318.00 206.61L318.50 206.98L319.00 207.36L319.50 207.73L320.00 208.11L320.50 208.49L321.00 208.87L321.50 209.24L322.00 209.62L322.50 210.00L323.00 210.38L323.50 210.75L324.00 211.13L324.50 211.51L325.00 211.89L325.50 212.26L326.00 212.64L326.50 213.01L327.00 213.39L327.50 213.76L328.00 214.13L328.50 214.51L329.00 214.88L329.50 215.25L330.00 215.62L330.50 215.99L331.00 216.35L331.50 216.72L332.00 217.09L332.50 217.45L333.00 217.81L333.50 218.17L334.00 218.53L334.50 218.89L335.00 219.25L335.50 219.60L336.00 219.96L336.50 220.31L337.00 220.66L337.50 221.01L338.00 221.35L338.50 221.70L339.00 222.04L339.50 222.38L340.00 222.72L340.50 223.06L341.00 223.40L341.50 223.73L342.00 224.06L342.50 224.39L343.00 224.72L343.50 225.05L344.00 225.37L344.50 225.69L345.00 226.01L345.50 226.33L346.00 226.64L346.50 226.96L347.00 227.27L347.50 227.57L348.00 227.88L348.50 228.18L349.00 228.49L349.50 228.79L350.00 229.08L350.50 229.38L351.00 229.67L351.50 229.96L352.00 230.25L352.50 230.53L353.00 230.82L353.50 231.10L354.00 231.38L354.50 231.65L355.00 231.93L355.50 232.20L356.00 232.47L356.50 232.73L357.00 233.00L357.50 233.26L358.00 233.52L358.50 233.78L359.00 234.03L359.50 234.29L360.00 234.54L360.50 234.78L361.00 235.03L361.50 235.27L362.00 235.52L362.50 235.75L363.00 235.99L363.50 236.22L364.00 236.46L364.50 236.69L365.00 236.91L365.50 237.14L366.00 237.36L366.50 237.58L367.00 237.80L367.50 238.02L368.00 238.23L368.50 238.44L369.00 238.65L369.50 238.86L370.00 239.06L370.50 239.27L371.00 239.47L371.50 239.67L372.00 239.86L372.50 240.06L373.00 240.25L373.50 240.44L374.00 240.63L374.50 240.81L375.00 241.00L375.50 241.18L376.00 241.36L376.50 241.54L377.00 241.71L377.50 241.89L378.00 242.06L378.50 242.23L379.00 242.39L379.50 242.56L380.00 242.72L380.50 242.89L381.00 243.05L381.50 243.20L382.00 243.36L382.50 243.51L383.00 243.67L383.50 243.82L384.00 243.97L384.50 244.11L385.00 244.26L385.50 244.40L386.00 244.54L386.50 244.68L387.00 244.82L387.50 244.96L388.00 245.09L388.50 245.23L389.00 245.36L389.50 245.49L390.00 245.61L390.50 245.74L391.00 245.87L391.50 245.99L392.00 246.11L392.50 246.23L393.00 246.35L393.50 246.46L394.00 246.58L394.50 246.69L395.00 246.81L395.50 246.92L396.00 247.03L396.50 247.13L397.00 247.24L397.50 247.34L398.00 247.45L398.50 247.55L399.00 247.65L399.50 247.75L400.00 247.85L400.50 247.94L401.00 248.04L401.50 248.13L402.00 248.22L402.50 248.31L403.00 248.40L403.50 248.49L404.00 248.58L404.50 248.66L405.00 248.75L405.50 248.83L406.00 248.91L406.50 248.99L407.00 249.07L407.50 249.15L408.00 249.23L408.50 249.31L409.00 249.38L409.50 249.46L410.00 249.53L410.50 249.60L411.00 249.67L411.50 249.74L412.00 249.81L412.50 249.87L413.00 249.94L413.50 250.01L414.00 250.07L414.50 250.13L415.00 250.20L415.50 250.26L416.00 250.32L416.50 250.38L417.00 250.43L417.50 250.49L418.00 250.55L418.50 250.60L419.00 250.66L419.50 250.71L420.00 250.76L420.50 250.82L421.00 250.87L421.50 250.92L422.00 250.97L422.50 251.01L423.00 251.06L423.50 251.11L424.00 251.16L424.50 251.20L425.00 251.24L425.50 251.29" stroke="#30a030"/>
<path d="M88.50 248.27L89.00 248.27L89.50 248.27L90.00 248.27L90.50 248.27L91.00 248.27L91.50 248.27L92.00 248.27L92.50 248.27L93.00 248.27L93.50 248.27L94.00 248.27L94.50 248.27L95.00 248.27L95.50 248.27L96.00 248.27L96.50 248.27L97.00 248.27L97.50 248.27L98.00 248.27L98.50 248.27L99.00 248.27L99.50 248.27L100.00 248.27L100.50 248.27L101.00 248.27L101.50 248.27L102.00 248.27L102.50 248.27L103.00 248.27L103.50 248.27L104.00 248.27L104.50 248.27L105.00 248.27L105.50 248.27L106.00 248.27L106.50 248.27L107.00 248.27L107.50 248.27L108.00 248.27L108.50 248.27L109.00 248.27L109.50 248.27L110.00 248.27L110.50 248.27L111.00 248.27L111.50 248.28L112.00 248.28L112.50 248.28L113.00 248.28L113.50 248.28L114.00 248.28L114.50 248.28L115.00 248.28L115.50 248.28L116.00 248.28L116.50 248.28L117.00 248.28L117.50 248.28L118.00 248.28L118.50 248.28L119.00 248.28L119.50 248.28L120.00 248.28L120.50 248.28L121.00 248.28L121.50 248.28L122.00 248.28L122.50 248.28L123.00 248.28L123.50 248.28L124.00 248.28L124.50 248.28L125.00 248.28L125.50 248.28L126.00 248.29L126.50 248.29L127.00 248.29L127.50 248.29L128.00 248.29L128.50 248.29L129.00 248.29L129.50 248.29L130.00 248.29L130.50 248.29L131.00 248.29L131.50 248.29L132.00 248.29L132.50 248.29L133.00 248.29L133.50 248.29L134.00 248.29L134.50 248.29L135.00 248.30L135.50 248.30L136.00 248.30L136.50 248.30L137.00 248.30L137.50 248.30L138.00 248.30L138.50 248.30L139.00 248.30L139.50 248.30L140.00 248.30L140.50 248.30L141.00 248.30L141.50 248.30L142.00 248.31L142.50 248.31L143.00 248.31L143.50 248.31L144.00 248.31L144.50 248.31L145.00 248.31L145.50 248.31L146.00 248.31L146.50 248.31L147.00 248.31L147.50 248.32L148.00 248.32L148.50 248.32L149.00 248.32L149.50 248.32L150.00 248.32L150.50 248.32L151.00 248.32L151.50 248.32L152.00 248.33L152.50 248.33L153.00 248.33L153.50 248.33L154.00 248.33L154.50 248.33L155.00 248.33L155.50 248.33L156.00 248.34L156.50 248.34L157.00 248.34L157.50 248.34L158.00 248.34L158.50 248.34L159.00 248.34L159.50 248.35L160.00 248.35L160.50 248.35L161.00 248.35L161.50 248.35L162.00 248.35L162.50 248.35L163.00 248.36L163.50 248.36L164.00 248.36L164.50 248.36L165.00 248.36L165.50 248.36L166.00 248.37L166.50 248.37L167.00 248.37L167.50 248.37L168.00 248.37L168.50 248.38L169.00 248.38L169.50 248.38L170.00 248.38L170.50 248.38L171.00 248.39L171.50 248.39L172.00 248.39L172.50 248.39L173.00 248.39L173.50 248.40L174.00 248.40L174.50 248.40L175.00 248.40L175.50 248.41L176.00 248.41L176.50 248.41L177.00 248.41L177.50 248.42L178.00 248.42L178.50 248.42L179.00 248.42L179.50 248.43L180.00 248.43L180.50 248.43L181.00 248.43L181.50 248.44L182.00 248.44L182.50 248.44L183.00 248.44L183.50 248.45L184.00 248.45L184.50 248.45L185.00 248.46L185.50 248.46L186.00 248.46L186.50 248.46L187.00 248.47L187.50 248.47L188.00 248.47L188.50 248.48L189.00 248.48L189.50 248.48L190.00 248.49L190.50 248.49L191.00 248.49L191.50 248.50L192.00 248.50L192.50 248.50L193.00 248.51L193.50 248.51L194.00 248.51L194.50 248.52L195.00 248.52L195.50 248.53L196.00 248.53L196.50 248.53L197.00 248.54L197.50 248.54L198.00 248.54L198.50 248.55L199.00 248.55L199.50 248.56L200.00 248.56L200.50 248.56L201.00 248.57L201.50 248.57L202.00 248.58L202.50 248.58L203.00 248.59L203.50 248.59L204.00 248.59L204.50 248.60L205.00 248.60L205.50 248.61L206.00 248.61L206.50 248.62L207.00 248.62L207.50 248.63L208.00 248.63L208.50 248.64L209.00 248.64L209.50 248.65L210.00 248.65L210.50 248.66L211.00 248.66L211.50 248.67L212.00 248.67L212.50 248.68L213.00 248.68L213.50 248.69L214.00 248.69L214.50 248.70L215.00 248.70L215.50 248.71L216.00 248.71L216.50 248.72L217.00 248.72L217.50 248.73L218.00 248.73L218.50 248.74L219.00 248.75L219.50 248.75L220.00 248.76L220.50 248.76L221.00 248.77L221.50 248.77L222.00 248.78L222.50 248.79L223.00 248.79L223.50 248.80L224.00 248.80L224.50 248.81L225.00 248.82L225.50 248.82L226.00 248.83L226.50 248.84L227.00 248.84L227.50 248.85L228.00 248.85L228.50 248.86L229.00 248.87L229.50 248.87L230.00 248.88L230.50 248.89L231.00 248.89L231.50 248.90L232.00 248.91L232.50 248.91L233.00 248.92L233.50 248.93L234.00 248.94L234.50 248.94L235.00 248.95L235.50 248.96L236.00 248.96L236.50 248.97L237.00 248.98L237.50 248.99L238.00 248.99L238.50 249.00L239.00 249.01L239.50 249.02L240.00 249.02L240.50 249.03L241.00 249.04L241.50 249.05L242.00 249.05L242.50 249.06L243.00 249.07L243.50 249.08L244.00 249.09L244.50 249.09L245.00 249.10L245.50 249.11L246.00 249.12L246.50 249.13L247.00 249.13L247.50 249.14L248.00 249.15L248.50 249.16L249.00 249.17L249.50 249.18L250.00 249.19L250.50 249.19L251.00 249.20L251.50 249.21L252.00 249.22L252.50 249.23L253.00 249.24L253.50 249.25L254.00 249.26L254.50 249.27L255.00 249.28L255.50 249.29L256.00 249.30L256.50 249.31L257.00 249.31L257.50 249.32L258.00 249.33L258.50 249.34L259.00 249.35L259.50 249.36L260.00 249.37L260.50 249.39L261.00 249.40L261.50 249.41L262.00 249.42L262.50 249.43L263.00 249.44L263.50 249.45L264.00 249.46L264.50 249.47L265.00 249.48L265.50 249.49L266.00 249.51L266.50 249.52L267.00 249.53L267.50 249.54L268.00 249.55L268.50 249.57L269.00 249.58L269.50 249.59L270.00 249.60L270.50 249.62L271.00 249.63L271.50 249.64L272.00 249.65L272.50 249.67L273.00 249.68L273.50 249.69L274.00 249.71L274.50 249.72L275.00 249.74L275.50 249.75L276.00 249.76L276.50 249.78L277.00 249.79L277.50 249.81L278.00 249.82L278.50 249.84L279.00 249.85L279.50 249.87L280.00 249.89L280.50 249.90L281.00 249.92L281.50 249.93L282.00 249.95L282.50 249.97L283.00 249.98L283.50 250.00L284.00 250.02L284.50 250.04L285.00 250.05L285.50 250.07L286.00 250.09L286.50 250.11L287.00 250.13L287.50 250.15L288.00 250.16L288.50 250.18L289.00 250.20L289.50 250.22L290.00 250.24L290.50 250.26L291.00 250.28L291.50 250.30L292.00 250.32L292.50 250.34L293.00 250.37L293.50 250.39L294.00 250.41L294.50 250.43L295.00 250.45L295.50 250.47L296.00 250.50L296.50 250.52L297.00 250.54L297.50 250.56L298.00 250.59L298.50 250.61L299.00 250.63L299.50 250.66L300.00 250.68L300.50 250.70L301.00 250.73L301.50 250.75L302.00 250.78L302.50 250.80L303.00 250.83L303.50 250.85L304.00 250.88L304.50 250.90L305.00 250.93L305.50 250.95L306.00 250.98L306.50 251.00L307.00 251.03L307.50 251.05L308.00 251.08L308.50 251.11L309.00 251.13L309.50 251.16L310.00 251.18L310.50 251.21L311.00 251.24L311.50 251.26L312.00 251.29L312.50 251.32L313.00 251.34L313.50 251.37L314.00 251.40L314.50 251.42L315.00 251.45L315.50 251.47L316.00 251.50L316.50 251.53L317.00 251.55L317.50 251.58L318.00 251.61L318.50 251.63L319.00 251.66L319.50 251.68L320.00 251.71L320.50 251.74L321.00 251.76L321.50 251.79L322.00 251.81L322.50 251.84L323.00 251.86L323.50 251.89L324.00 251.91L324.50 251.94L325.00 251.96L325.50 251.99L326.00 252.01L326.50 252.04L327.00 252.06L327.50 252.08L328.00 252.11L328.50 252.13L329.00 252.15L329.50 252.18L330.00 252.20L330.50 252.22L331.00 252.25L331.50 252.27L332.00 252.29L332.50 252.31L333.00 252.33L333.50 252.35L334.00 252.37L334.50 252.40L335.00 252.42L335.50 252.44L336.00 252.46L336.50 252.48L337.00 252.49L337.50 252.51L338.00 252.53L338.50 252.55L339.00 252.57L339.50 252.59L340.00 252.61L340.50 252.62L341.00 252.64L341.50 252.66L342.00 252.67L342.50 252.69L343.00 252.71L343.50 252.72L344.00 252.74L344.50 252.75L345.00 252.77L345.50 252.78L346.00 252.80L346.50 252.81L347.00 252.83L347.50 252.84L348.00 252.85L348.50 252.87L349.00 252.88L349.50 252.89L350.00 252.90L350.50 252.92L351.00 252.93L351.50 252.94L352.00 252.95L352.50 252.96L353.00 252.97L353.50 252.98L354.00 252.99L354.50 253.01L355.00 253.02L355.50 253.03L356.00 253.03L356.50 253.04L357.00 253.05L357.50 253.06L358.00 253.07L358.50 253.08L359.00 253.09L359.50 253.10L360.00 253.10L360.50 253.11L361.00 253.12L361.50 253.13L362.00 253.13L362.50 253.14L363.00 253.15L363.50 253.16L364.00 253.16L364.50 253.17L365.00 253.17L365.50 253.18L366.00 253.19L366.50 253.19L367.00 253.20L367.50 253.20L368.00 253.21L368.50 253.21L369.00 253.22L369.50 253.22L370.00 253.23L370.50 253.23L371.00 253.24L371.50 253.24L372.00 253.25L372.50 253.25L373.00 253.26L373.50 253.26L374.00 253.26L374.50 253.27L375.00 253.27L375.50 253.27L376.00 253.28L376.50 253.28L377.00 253.28L377.50 253.29L378.00 253.29L378.50 253.29L379.00 253.30L379.50 253.30L380.00 253.30L380.50 253.30L381.00 253.31L381.50 253.31L382.00 253.31L382.50 253.31L383.00 253.32L383.50 253.32L384.00 253.32L384.50 253.32L385.00 253.33L385.50 253.33L386.00 253.33L386.50 253.33L387.00 253.33L387.50 253.34L388.00 253.34L388.50 253.34L389.00 253.34L389.50 253.34L390.00 253.34L390.50 253.35L391.00 253.35L391.50 253.35L392.00 253.35L392.50 253.35L393.00 253.35L393.50 253.35L394.00 253.36L394.50 253.36L395.00 253.36L395.50 253.36L396.00 253.36L396.50 253.36L397.00 253.36L397.50 253.36L398.00 253.36L398.50 253.37L399.00 253.37L399.50 253.37L400.00 253.37L400.50 253.37L401.00 253.37L401.50 253.37L402.00 253.37L402.50 253.37L403.00 253.37L403.50 253.37L404.00 253.37L404.50 253.38L405.00 253.38L405.50 253.38L406.00 253.38L406.50 253.38L407.00 253.38L407.50 253.38L408.00 253.38L408.50 253.38L409.00 253.38L409.50 253.38L410.00 253.38L410.50 253.38L411.00 253.38L411.50 253.38L412.00 253.38L412.50 253.38L413.00 253.39L413.50 253.39L414.00 253.39L414.50 253.39L415.00 253.39L415.50 253.39L416.00 253.39L416.50 253.39L417.00 253.39L417.50 253.39L418.00 253.39L418.50 253.39L419.00 253.39L419.50 253.39L420.00 253.39L420.50 253.39L421.00 253.39L421.50 253.39L422.00 253.39L422.50 253.39L423.00 253.39L423.50 253.39L424.00 253.39L424.50 253.39L425.00 253.39L425.50 253.39" stroke="#181860"/>
<path d="M88.50 247.51L89.00 247.49L89.50 247.47L90.00 247.45L90.50 247.43L91.00 247.41L91.50 247.39L92.00 247.37L92.50 247.35L93.00 247.33L93.50 247.31L94.00 247.28L94.50 247.26L95.00 247.24L95.50 247.21L96.00 247.19L96.50 247.16L97.00 247.14L97.50 247.11L98.00 247.08L98.50 247.05L99.00 247.03L99.50 247.00L100.00 246.97L100.50 246.94L101.00 246.91L101.50 246.88L102.00 246.85L102.50 246.81L103.00 246.78L103.50 246.75L104.00 246.71L104.50 246.68L105.00 246.64L105.50 246.61L106.00 246.57L106.50 246.53L107.00 246.50L107.50 246.46L108.00 246.42L108.50 246.38L109.00 246.34L109.50 246.29L110.00 246.25L110.50 246.21L111.00 246.16L111.50 246.12L112.00 246.07L112.50 246.03L113.00 245.98L113.50 245.93L114.00 245.88L114.50 245.83L115.00 245.78L115.50 245.73L116.00 245.67L116.50 245.62L117.00 245.57L117.50 245.51L118.00 245.45L118.50 245.40L119.00 245.34L119.50 245.28L120.00 245.22L120.50 245.16L121.00 245.09L121.50 245.03L122.00 244.96L122.50 244.90L123.00 244.83L123.50 244.76L124.00 244.70L124.50 244.63L125.00 244.55L125.50 244.48L126.00 244.41L126.50 244.33L127.00 244.26L127.50 244.18L128.00 244.10L128.50 244.02L129.00 243.94L129.50 243.86L130.00 243.78L130.50 243.69L131.00 243.61L131.50 243.52L132.00 243.43L132.50 243.34L133.00 243.25L133.50 243.16L134.00 243.06L134.50 242.97L135.00 242.87L135.50 242.77L136.00 242.67L136.50 242.57L137.00 242.47L137.50 242.37L138.00 242.26L138.50 242.16L139.00 242.05L139.50 241.94L140.00 241.83L140.50 241.72L141.00 241.60L141.50 241.49L142.00 241.37L142.50 241.25L143.00 241.13L143.50 241.01L144.00 240.89L144.50 240.76L145.00 240.63L145.50 240.51L146.00 240.38L146.50 240.25L147.00 240.11L147.50 239.98L148.00 239.84L148.50 239.70L149.00 239.56L149.50 239.42L150.00 239.28L150.50 239.14L151.00 238.99L151.50 238.84L152.00 238.69L152.50 238.54L153.00 238.39L153.50 238.23L154.00 238.08L154.50 237.92L155.00 237.76L155.50 237.60L156.00 237.43L156.50 237.27L157.00 237.10L157.50 236.93L158.00 236.76L158.50 236.59L159.00 236.41L159.50 236.24L160.00 236.06L160.50 235.88L161.00 235.70L161.50 235.51L162.00 235.33L162.50 235.14L163.00 234.95L163.50 234.76L164.00 234.57L164.50 234.37L165.00 234.18L165.50 233.98L166.00 233.78L166.50 233.58L167.00 233.38L167.50 233.17L168.00 232.96L168.50 232.75L169.00 232.54L169.50 232.33L170.00 232.12L170.50 231.90L171.00 231.68L171.50 231.46L172.00 231.24L172.50 231.02L173.00 230.79L173.50 230.57L174.00 230.34L174.50 230.11L175.00 229.88L175.50 229.64L176.00 229.41L176.50 229.17L177.00 228.93L177.50 228.69L178.00 228.45L178.50 228.20L179.00 227.96L179.50 227.71L180.00 227.46L180.50 227.21L181.00 226.96L181.50 226.71L182.00 226.45L182.50 226.19L183.00 225.93L183.50 225.67L184.00 225.41L184.50 225.15L185.00 224.88L185.50 224.62L186.00 224.35L186.50 224.08L187.00 223.81L187.50 223.53L188.00 223.26L188.50 222.98L189.00 222.71L189.50 222.43L190.00 222.15L190.50 221.86L191.00 221.58L191.50 221.30L192.00 221.01L192.50 220.72L193.00 220.43L193.50 220.14L194.00 219.85L194.50 219.56L195.00 219.26L195.50 218.97L196.00 218.67L196.50 218.37L197.00 218.07L197.50 217.77L198.00 217.47L198.50 217.16L199.00 216.86L199.50 216.55L200.00 216.25L200.50 215.94L201.00 215.63L201.50 215.31L202.00 215.00L202.50 214.69L203.00 214.37L203.50 214.05L204.00 213.74L204.50 213.42L205.00 213.10L205.50 212.77L206.00 212.45L206.50 212.12L207.00 211.80L207.50 211.47L208.00 211.14L208.50 210.81L209.00 210.48L209.50 210.15L210.00 209.81L210.50 209.48L211.00 209.14L211.50 208.80L212.00 208.46L212.50 208.12L213.00 207.78L213.50 207.44L214.00 207.09L214.50 206.75L215.00 206.40L215.50 206.05L216.00 205.70L216.50 205.34L217.00 204.99L217.50 204.64L218.00 204.28L218.50 203.92L219.00 203.56L219.50 203.20L220.00 202.83L220.50 202.47L221.00 202.10L221.50 201.73L222.00 201.36L222.50 200.99L223.00 200.62L223.50 200.24L224.00 199.87L224.50 199.49L225.00 199.11L225.50 198.73L226.00 198.34L226.50 197.96L227.00 197.57L227.50 197.18L228.00 196.79L228.50 196.40L229.00 196.00L229.50 195.60L230.00 195.21L230.50 194.80L231.00 194.40L231.50 194.00L232.00 193.59L232.50 193.18L233.00 192.77L233.50 192.35L234.00 191.94L234.50 191.52L235.00 191.10L235.50 190.68L236.00 190.25L236.50 189.82L237.00 189.39L237.50 188.96L238.00 188.53L238.50 188.09L239.00 187.65L239.50 187.20L240.00 186.76L240.50 186.31L241.00 185.86L241.50 185.40L242.00 184.94L242.50 184.48L243.00 184.01L243.50 183.54L244.00 183.07L244.50 182.59L245.00 182.11L245.50 181.63L246.00 181.14L246.50 180.64L247.00 180.14L247.50 179.64L248.00 179.13L248.50 178.62L249.00 178.10L249.50 177.57L250.00 177.04L250.50 176.50L251.00 175.96L251.50 175.41L252.00 174.85L252.50 174.28L253.00 173.71L253.50 173.13L254.00 172.54L254.50 171.94L255.00 171.33L255.50 170.71L256.00 170.09L256.50 169.45L257.00 168.80L257.50 168.14L258.00 167.47L258.50 166.79L259.00 166.10L259.50 165.39L260.00 164.67L260.50 163.94L261.00 163.19L261.50 162.43L262.00 161.66L262.50 160.87L263.00 160.06L263.50 159.24L264.00 158.40L264.50 157.55L265.00 156.67L265.50 155.78L266.00 154.87L266.50 153.95L267.00 153.00L267.50 152.04L268.00 151.05L268.50 150.05L269.00 149.02L269.50 147.98L270.00 146.91L270.50 145.83L271.00 144.72L271.50 143.59L272.00 142.44L272.50 141.26L273.00 140.07L273.50 138.85L274.00 137.61L274.50 136.35L275.00 135.07L275.50 133.76L276.00 132.43L276.50 131.08L277.00 129.71L277.50 128.31L278.00 126.90L278.50 125.46L279.00 124.01L279.50 122.53L280.00 121.03L280.50 119.52L281.00 117.98L281.50 116.43L282.00 114.86L282.50 113.27L283.00 111.66L283.50 110.04L284.00 108.41L284.50 106.76L285.00 105.10L285.50 103.42L286.00 101.74L286.50 100.04L287.00 98.34L287.50 96.63L288.00 94.91L288.50 93.19L289.00 91.47L289.50 89.74L290.00 88.01L290.50 86.28L291.00 84.55L291.50 82.83L292.00 81.11L292.50 79.40L293.00 77.69L293.50 76.00L294.00 74.31L294.50 72.64L295.00 70.99L295.50 69.35L296.00 67.72L296.50 66.12L297.00 64.54L297.50 62.98L298.00 61.44L298.50 59.94L299.00 58.46L299.50 57.01L300.00 55.59L300.50 54.20L301.00 52.85L301.50 51.54L302.00 50.26L302.50 49.03L303.00 47.83L303.50 46.68L304.00 45.57L304.50 44.51L305.00 43.49L305.50 42.52L306.00 41.61L306.50 40.74L307.00 39.93L307.50 39.16L308.00 38.46L308.50 37.81L309.00 37.21L309.50 36.68L310.00 36.20L310.50 35.78L311.00 35.42L311.50 35.12L312.00 34.88L312.50 34.70L313.00 34.59L313.50 34.54L314.00 34.55L314.50 34.62L315.00 34.76L315.50 34.96L316.00 35.23L316.50 35.55L317.00 35.94L317.50 36.40L318.00 36.92L318.50 37.49L319.00 38.14L319.50 38.84L320.00 39.60L320.50 40.43L321.00 41.31L321.50 42.25L322.00 43.25L322.50 44.31L323.00 45.43L323.50 46.60L324.00 47.82L324.50 49.10L325.00 50.43L325.50 51.81L326.00 53.24L326.50 54.72L327.00 56.25L327.50 57.82L328.00 59.44L328.50 61.10L329.00 62.80L329.50 64.55L330.00 66.33L330.50 68.14L331.00 70.00L331.50 71.89L332.00 73.81L332.50 75.76L333.00 77.74L333.50 79.74L334.00 81.78L334.50 83.83L335.00 85.91L335.50 88.01L336.00 90.13L336.50 92.27L337.00 94.42L337.50 96.59L338.00 98.77L338.50 100.97L339.00 103.17L339.50 105.38L340.00 107.60L340.50 109.82L341.00 112.05L341.50 114.27L342.00 116.50L342.50 118.73L343.00 120.96L343.50 123.18L344.00 125.40L344.50 127.61L345.00 129.82L345.50 132.02L346.00 134.20L346.50 136.38L347.00 138.55L347.50 140.70L348.00 142.84L348.50 144.96L349.00 147.07L349.50 149.16L350.00 151.23L350.50 153.29L351.00 155.32L351.50 157.34L352.00 159.33L352.50 161.31L353.00 163.26L353.50 165.19L354.00 167.09L354.50 168.98L355.00 170.83L355.50 172.67L356.00 174.47L356.50 176.26L357.00 178.01L357.50 179.75L358.00 181.45L358.50 183.13L359.00 184.78L359.50 186.40L360.00 188.00L360.50 189.57L361.00 191.11L361.50 192.63L362.00 194.11L362.50 195.57L363.00 197.01L363.50 198.41L364.00 199.79L364.50 201.14L365.00 202.46L365.50 203.76L366.00 205.03L366.50 206.27L367.00 207.49L367.50 208.68L368.00 209.85L368.50 210.99L369.00 212.10L369.50 213.19L370.00 214.25L370.50 215.29L371.00 216.30L371.50 217.29L372.00 218.26L372.50 219.20L373.00 220.12L373.50 221.02L374.00 221.89L374.50 222.74L375.00 223.58L375.50 224.39L376.00 225.17L376.50 225.94L377.00 226.69L377.50 227.42L378.00 228.13L378.50 228.82L379.00 229.49L379.50 230.14L380.00 230.78L380.50 231.40L381.00 232.00L381.50 232.58L382.00 233.15L382.50 233.71L383.00 234.24L383.50 234.76L384.00 235.27L384.50 235.76L385.00 236.24L385.50 236.71L386.00 237.16L386.50 237.60L387.00 238.02L387.50 238.44L388.00 238.84L388.50 239.23L389.00 239.61L389.50 239.97L390.00 240.33L390.50 240.68L391.00 241.01L391.50 241.34L392.00 241.66L392.50 241.96L393.00 242.26L393.50 242.55L394.00 242.83L394.50 243.11L395.00 243.37L395.50 243.63L396.00 243.88L396.50 244.12L397.00 244.36L397.50 244.58L398.00 244.81L398.50 245.02L399.00 245.23L399.50 245.44L400.00 245.63L400.50 245.83L401.00 246.01L401.50 246.19L402.00 246.37L402.50 246.54L403.00 246.71L403.50 246.87L404.00 247.03L404.50 247.18L405.00 247.33L405.50 247.47L406.00 247.61L406.50 247.75L407.00 247.88L407.50 248.01L408.00 248.14L408.50 248.26L409.00 248.38L409.50 248.50L410.00 248.61L410.50 248.72L411.00 248.83L411.50 248.93L412.00 249.04L412.50 249.14L413.00 249.23L413.50 249.33L414.00 249.42L414.50 249.51L415.00 249.60L415.50 249.68L416.00 249.77L416.50 249.85L417.00 249.93L417.50 250.01L418.00 250.08L418.50 250.16L419.00 250.23L419.50 250.30L420.00 250.37L420.50 250.44L421.00 250.50L421.50 250.57L422.00 250.63L422.50 250.69L423.00 250.75L423.50 250.81L424.00 250.87L424.50 250.93L425.00 250.98L425.50 251.04" stroke="#000"/>
<path d="M577.50 242.73L578.00 242.73L578.50 242.73L579.00 242.73L579.50 242.73L580.00 242.73L580.50 242.73L581.00 242.73L581.50 242.73L582.00 242.73L582.50 242.73L583.00 242.73L583.50 242.73L584.00 242.73L584.50 242.73L585.00 242.73L585.50 242.73L586.00 242.73L586.50 242.73L587.00 242.73L587.50 242.74L588.00 242.74L588.50 242.74L589.00 242.74L589.50 242.74L590.00 242.74L590.50 242.74L591.00 242.74L591.50 242.74L592.00 242.74L592.50 242.74L593.00 242.74L593.50 242.74L594.00 242.74L594.50 242.74L595.00 242.74L595.50 242.74L596.00 242.74L596.50 242.74L597.00 242.74L597.50 242.74L598.00 242.74L598.50 242.74L599.00 242.74L599.50 242.74L600.00 242.74L600.50 242.74L601.00 242.75L601.50 242.75L602.00 242.75L602.50 242.75L603.00 242.75L603.50 242.75L604.00 242.75L604.50 242.75L605.00 242.75L605.50 242.75L606.00 242.75L606.50 242.75L607.00 242.75L607.50 242.75L608.00 242.75L608.50 242.75L609.00 242.75L609.50 242.75L610.00 242.75L610.50 242.76L611.00 242.76L611.50 242.76L612.00 242.76L612.50 242.76L613.00 242.76L613.50 242.76L614.00 242.76L614.50 242.76L615.00 242.76L615.50 242.76L616.00 242.76L616.50 242.76L617.00 242.77L617.50 242.77L618.00 242.77L618.50 242.77L619.00 242.77L619.50 242.77L620.00 242.77L620.50 242.77L621.00 242.77L621.50 242.77L622.00 242.77L622.50 242.78L623.00 242.78L623.50 242.78L624.00 242.78L624.50 242.78L625.00 242.78L625.50 242.78L626.00 242.78L626.50 242.78L627.00 242.79L627.50 242.79L628.00 242.79L628.50 242.79L629.00 242.79L629.50 242.79L630.00 242.79L630.50 242.79L631.00 242.80L631.50 242.80L632.00 242.80L632.50 242.80L633.00 242.80L633.50 242.80L634.00 242.80L634.50 242.80L635.00 242.81L635.50 242.81L636.00 242.81L636.50 242.81L637.00 242.81L637.50 242.81L638.00 242.82L638.50 242.82L639.00 242.82L639.50 242.82L640.00 242.82L640.50 242.82L641.00 242.83L641.50 242.83L642.00 242.83L642.50 242.83L643.00 242.83L643.50 242.84L644.00 242.84L644.50 242.84L645.00 242.84L645.50 242.84L646.00 242.85L646.50 242.85L647.00 242.85L647.50 242.85L648.00 242.85L648.50 242.86L649.00 242.86L649.50 242.86L650.00 242.86L650.50 242.87L651.00 242.87L651.50 242.87L652.00 242.87L652.50 242.88L653.00 242.88L653.50 242.88L654.00 242.88L654.50 242.89L655.00 242.89L655.50 242.89L656.00 242.90L656.50 242.90L657.00 242.90L657.50 242.90L658.00 242.91L658.50 242.91L659.00 242.91L659.50 242.92L660.00 242.92L660.50 242.92L661.00 242.93L661.50 242.93L662.00 242.93L662.50 242.94L663.00 242.94L663.50 242.94L664.00 242.95L664.50 242.95L665.00 242.95L665.50 242.96L666.00 242.96L666.50 242.97L667.00 242.97L667.50 242.97L668.00 242.98L668.50 242.98L669.00 242.99L669.50 242.99L670.00 242.99L670.50 243.00L671.00 243.00L671.50 243.01L672.00 243.01L672.50 243.02L673.00 243.02L673.50 243.03L674.00 243.03L674.50 243.03L675.00 243.04L675.50 243.04L676.00 243.05L676.50 243.05L677.00 243.06L677.50 243.06L678.00 243.07L678.50 243.07L679.00 243.08L679.50 243.09L680.00 243.09L680.50 243.10L681.00 243.10L681.50 243.11L682.00 243.11L682.50 243.12L683.00 243.13L683.50 243.13L684.00 243.14L684.50 243.14L685.00 243.15L685.50 243.16L686.00 243.16L686.50 243.17L687.00 243.18L687.50 243.18L688.00 243.19L688.50 243.20L689.00 243.20L689.50 243.21L690.00 243.22L690.50 243.22L691.00 243.23L691.50 243.24L692.00 243.24L692.50 243.25L693.00 243.26L693.50 243.27L694.00 243.27L694.50 243.28L695.00 243.29L695.50 243.30L696.00 243.31L696.50 243.31L697.00 243.32L697.50 243.33L698.00 243.34L698.50 243.35L699.00 243.36L699.50 243.37L700.00 243.37L700.50 243.38L701.00 243.39L701.50 243.40L702.00 243.41L702.50 243.42L703.00 243.43L703.50 243.44L704.00 243.45L704.50 243.46L705.00 243.47L705.50 243.48L706.00 243.49L706.50 243.50L707.00 243.51L707.50 243.52L708.00 243.53L708.50 243.54L709.00 243.55L709.50 243.56L710.00 243.57L710.50 243.58L711.00 243.59L711.50 243.60L712.00 243.61L712.50 243.63L713.00 243.64L713.50 243.65L714.00 243.66L714.50 243.67L715.00 243.68L715.50 243.70L716.00 243.71L716.50 243.72L717.00 243.73L717.50 243.75L718.00 243.76L718.50 243.77L719.00 243.78L719.50 243.80L720.00 243.81L720.50 243.82L721.00 243.84L721.50 243.85L722.00 243.86L722.50 243.88L723.00 243.89L723.50 243.90L724.00 243.92L724.50 243.93L725.00 243.94L725.50 243.96L726.00 243.97L726.50 243.99L727.00 244.00L727.50 244.02L728.00 244.03L728.50 244.05L729.00 244.06L729.50 244.08L730.00 244.09L730.50 244.11L731.00 244.12L731.50 244.14L732.00 244.15L732.50 244.17L733.00 244.18L733.50 244.20L734.00 244.22L734.50 244.23L735.00 244.25L735.50 244.26L736.00 244.28L736.50 244.30L737.00 244.31L737.50 244.33L738.00 244.35L738.50 244.36L739.00 244.38L739.50 244.40L740.00 244.41L740.50 244.43L741.00 244.45L741.50 244.46L742.00 244.48L742.50 244.50L743.00 244.52L743.50 244.53L744.00 244.55L744.50 244.57L745.00 244.59L745.50 244.60L746.00 244.62L746.50 244.64L747.00 244.66L747.50 244.68L748.00 244.69L748.50 244.71L749.00 244.73L749.50 244.75L750.00 244.77L750.50 244.79L751.00 244.80L751.50 244.82L752.00 244.84L752.50 244.86L753.00 244.88L753.50 244.90L754.00 244.92L754.50 244.93L755.00 244.95L755.50 244.97L756.00 244.99L756.50 245.01L757.00 245.03L757.50 245.05L758.00 245.07L758.50 245.09L759.00 245.11L759.50 245.12L760.00 245.14L760.50 245.16L761.00 245.18L761.50 245.20L762.00 245.22L762.50 245.24L763.00 245.26L763.50 245.28L764.00 245.30L764.50 245.32L765.00 245.34L765.50 245.36L766.00 245.38L766.50 245.40L767.00 245.42L767.50 245.44L768.00 245.46L768.50 245.48L769.00 245.49L769.50 245.51L770.00 245.53L770.50 245.55L771.00 245.57L771.50 245.59L772.00 245.61L772.50 245.63L773.00 245.65L773.50 245.67L774.00 245.69L774.50 245.71L775.00 245.73L775.50 245.75L776.00 245.77L776.50 245.79L777.00 245.81L777.50 245.83L778.00 245.85L778.50 245.87L779.00 245.89L779.50 245.92L780.00 245.94L780.50 245.96L781.00 245.98L781.50 246.00L782.00 246.02L782.50 246.04L783.00 246.06L783.50 246.08L784.00 246.10L784.50 246.12L785.00 246.14L785.50 246.16L786.00 246.18L786.50 246.20L787.00 246.23L787.50 246.25L788.00 246.27L788.50 246.29L789.00 246.31L789.50 246.33L790.00 246.35L790.50 246.38L791.00 246.40L791.50 246.42L792.00 246.44L792.50 246.46L793.00 246.48L793.50 246.51L794.00 246.53L794.50 246.55L795.00 246.57L795.50 246.60L796.00 246.62L796.50 246.64L797.00 246.66L797.50 246.69L798.00 246.71L798.50 246.73L799.00 246.75L799.50 246.78L800.00 246.80L800.50 246.82L801.00 246.85L801.50 246.87L802.00 246.89L802.50 246.92L803.00 246.94L803.50 246.96L804.00 246.99L804.50 247.01L805.00 247.03L805.50 247.06L806.00 247.08L806.50 247.11L807.00 247.13L807.50 247.15L808.00 247.18L808.50 247.20L809.00 247.22L809.50 247.25L810.00 247.27L810.50 247.30L811.00 247.32L811.50 247.35L812.00 247.37L812.50 247.39L813.00 247.42L813.50 247.44L814.00 247.47L814.50 247.49L815.00 247.51L815.50 247.54L816.00 247.56L816.50 247.59L817.00 247.61L817.50 247.63L818.00 247.66L818.50 247.68L819.00 247.70L819.50 247.73L820.00 247.75L820.50 247.77L821.00 247.80L821.50 247.82L822.00 247.84L822.50 247.87L823.00 247.89L823.50 247.91L824.00 247.93L824.50 247.96L825.00 247.98L825.50 248.00L826.00 248.02L826.50 248.04L827.00 248.06L827.50 248.09L828.00 248.11L828.50 248.13L829.00 248.15L829.50 248.17L830.00 248.19L830.50 248.21L831.00 248.23L831.50 248.25L832.00 248.27L832.50 248.29L833.00 248.31L833.50 248.33L834.00 248.34L834.50 248.36L835.00 248.38L835.50 248.40L836.00 248.42L836.50 248.43L837.00 248.45L837.50 248.47L838.00 248.48L838.50 248.50L839.00 248.52L839.50 248.53L840.00 248.55L840.50 248.56L841.00 248.58L841.50 248.59L842.00 248.61L842.50 248.62L843.00 248.64L843.50 248.65L844.00 248.66L844.50 248.68L845.00 248.69L845.50 248.70L846.00 248.72L846.50 248.73L847.00 248.74L847.50 248.75L848.00 248.76L848.50 248.78L849.00 248.79L849.50 248.80L850.00 248.81L850.50 248.82L851.00 248.83L851.50 248.84L852.00 248.85L852.50 248.86L853.00 248.87L853.50 248.88L854.00 248.89L854.50 248.89L855.00 248.90L855.50 248.91L856.00 248.92L856.50 248.93L857.00 248.93L857.50 248.94L858.00 248.95L858.50 248.96L859.00 248.96L859.50 248.97L860.00 248.97L860.50 248.98L861.00 248.99L861.50 248.99L862.00 249.00L862.50 249.00L863.00 249.01L863.50 249.02L864.00 249.02L864.50 249.03L865.00 249.03L865.50 249.03L866.00 249.04L866.50 249.04L867.00 249.05L867.50 249.05L868.00 249.06L868.50 249.06L869.00 249.06L869.50 249.07L870.00 249.07L870.50 249.07L871.00 249.08L871.50 249.08L872.00 249.08L872.50 249.09L873.00 249.09L873.50 249.09L874.00 249.10L874.50 249.10L875.00 249.10L875.50 249.10L876.00 249.11L876.50 249.11L877.00 249.11L877.50 249.11L878.00 249.11L878.50 249.12L879.00 249.12L879.50 249.12L880.00 249.12L880.50 249.12L881.00 249.12L881.50 249.13L882.00 249.13L882.50 249.13L883.00 249.13L883.50 249.13L884.00 249.13L884.50 249.13L885.00 249.14L885.50 249.14L886.00 249.14L886.50 249.14L887.00 249.14L887.50 249.14L888.00 249.14L888.50 249.14L889.00 249.14L889.50 249.14L890.00 249.15L890.50 249.15L891.00 249.15L891.50 249.15L892.00 249.15L892.50 249.15L893.00 249.15L893.50 249.15L894.00 249.15L894.50 249.15L895.00 249.15L895.50 249.15L896.00 249.15L896.50 249.15L897.00 249.15L897.50 249.15L898.00 249.15L898.50 249.15L899.00 249.16L899.50 249.16L900.00 249.16L900.50 249.16L901.00 249.16L901.50 249.16L902.00 249.16L902.50 249.16L903.00 249.16L903.50 249.16L904.00 249.16L904.50 249.16L905.00 249.16L905.50 249.16L906.00 249.16L906.50 249.16L907.00 249.16L907.50 249.16L908.00 249.16L908.50 249.16L909.00 249.16L909.50 249.16L910.00 249.16L910.50 249.16L911.00 249.16L911.50 249.16L912.00 249.16L912.50 249.16L913.00 249.16" stroke="#2a7a7a"/>
<path d="M622.50 242.54L623.00 242.53L623.50 242.52L624.00 242.51L624.50 242.50L625.00 242.49L625.50 242.48L626.00 242.47L626.50 242.46L627.00 242.44L627.50 242.43L628.00 242.42L628.50 242.40L629.00 242.39L629.50 242.37L630.00 242.36L630.50 242.34L631.00 242.32L631.50 242.30L632.00 242.29L632.50 242.27L633.00 242.25L633.50 242.23L634.00 242.20L634.50 242.18L635.00 242.16L635.50 242.14L636.00 242.11L636.50 242.09L637.00 242.06L637.50 242.03L638.00 242.00L638.50 241.97L639.00 241.94L639.50 241.91L640.00 241.88L640.50 241.84L641.00 241.81L641.50 241.77L642.00 241.74L642.50 241.70L643.00 241.66L643.50 241.62L644.00 241.57L644.50 241.53L645.00 241.48L645.50 241.44L646.00 241.39L646.50 241.34L647.00 241.29L647.50 241.23L648.00 241.18L648.50 241.12L649.00 241.06L649.50 241.00L650.00 240.94L650.50 240.88L651.00 240.81L651.50 240.74L652.00 240.67L652.50 240.60L653.00 240.52L653.50 240.45L654.00 240.37L654.50 240.29L655.00 240.20L655.50 240.12L656.00 240.03L656.50 239.93L657.00 239.84L657.50 239.74L658.00 239.64L658.50 239.54L659.00 239.44L659.50 239.33L660.00 239.22L660.50 239.10L661.00 238.99L661.50 238.87L662.00 238.74L662.50 238.61L663.00 238.48L663.50 238.35L664.00 238.21L664.50 238.07L665.00 237.93L665.50 237.78L666.00 237.63L666.50 237.47L667.00 237.31L667.50 237.14L668.00 236.98L668.50 236.80L669.00 236.63L669.50 236.45L670.00 236.26L670.50 236.07L671.00 235.88L671.50 235.68L672.00 235.47L672.50 235.26L673.00 235.05L673.50 234.83L674.00 234.61L674.50 234.38L675.00 234.14L675.50 233.90L676.00 233.66L676.50 233.41L677.00 233.15L677.50 232.89L678.00 232.62L678.50 232.35L679.00 232.07L679.50 231.79L680.00 231.49L680.50 231.20L681.00 230.89L681.50 230.58L682.00 230.27L682.50 229.94L683.00 229.62L683.50 229.28L684.00 228.94L684.50 228.59L685.00 228.23L685.50 227.87L686.00 227.50L686.50 227.12L687.00 226.74L687.50 226.35L688.00 225.95L688.50 225.54L689.00 225.13L689.50 224.71L690.00 224.28L690.50 223.84L691.00 223.40L691.50 222.95L692.00 222.49L692.50 222.02L693.00 221.54L693.50 221.06L694.00 220.57L694.50 220.07L695.00 219.56L695.50 219.05L696.00 218.52L696.50 217.99L697.00 217.45L697.50 216.90L698.00 216.34L698.50 215.78L699.00 215.21L699.50 214.62L700.00 214.03L700.50 213.43L701.00 212.83L701.50 212.21L702.00 211.59L702.50 210.96L703.00 210.32L703.50 209.67L704.00 209.01L704.50 208.35L705.00 207.67L705.50 206.99L706.00 206.30L706.50 205.60L707.00 204.90L707.50 204.18L708.00 203.46L708.50 202.73L709.00 202.00L709.50 201.25L710.00 200.50L710.50 199.74L711.00 198.97L711.50 198.20L712.00 197.42L712.50 196.63L713.00 195.83L713.50 195.03L714.00 194.22L714.50 193.41L715.00 192.59L715.50 191.76L716.00 190.93L716.50 190.09L717.00 189.25L717.50 188.40L718.00 187.55L718.50 186.69L719.00 185.83L719.50 184.96L720.00 184.09L720.50 183.21L721.00 182.34L721.50 181.45L722.00 180.57L722.50 179.68L723.00 178.79L723.50 177.90L724.00 177.01L724.50 176.11L725.00 175.21L725.50 174.32L726.00 173.42L726.50 172.52L727.00 171.62L727.50 170.72L728.00 169.83L728.50 168.93L729.00 168.04L729.50 167.14L730.00 166.25L730.50 165.37L731.00 164.48L731.50 163.60L732.00 162.72L732.50 161.85L733.00 160.98L733.50 160.12L734.00 159.26L734.50 158.41L735.00 157.56L735.50 156.73L736.00 155.89L736.50 155.07L737.00 154.25L737.50 153.45L738.00 152.65L738.50 151.86L739.00 151.08L739.50 150.31L740.00 149.55L740.50 148.80L741.00 148.06L741.50 147.34L742.00 146.63L742.50 145.92L743.00 145.24L743.50 144.56L744.00 143.90L744.50 143.26L745.00 142.62L745.50 142.01L746.00 141.40L746.50 140.82L747.00 140.25L747.50 139.69L748.00 139.16L748.50 138.63L749.00 138.13L749.50 137.65L750.00 137.18L750.50 136.73L751.00 136.30L751.50 135.88L752.00 135.49L752.50 135.12L753.00 134.76L753.50 134.43L754.00 134.11L754.50 133.82L755.00 133.54L755.50 133.29L756.00 133.06L756.50 132.84L757.00 132.65L757.50 132.48L758.00 132.33L758.50 132.21L759.00 132.10L759.50 132.01L760.00 131.95L760.50 131.91L761.00 131.89L761.50 131.89L762.00 131.91L762.50 131.96L763.00 132.02L763.50 132.11L764.00 132.22L764.50 132.35L765.00 132.50L765.50 132.68L766.00 132.87L766.50 133.09L767.00 133.32L767.50 133.58L768.00 133.86L768.50 134.16L769.00 134.47L769.50 134.81L770.00 135.17L770.50 135.55L771.00 135.95L771.50 136.36L772.00 136.80L772.50 137.25L773.00 137.72L773.50 138.21L774.00 138.72L774.50 139.25L775.00 139.79L775.50 140.35L776.00 140.92L776.50 141.51L777.00 142.12L777.50 142.74L778.00 143.38L778.50 144.04L779.00 144.70L779.50 145.38L780.00 146.08L780.50 146.79L781.00 147.51L781.50 148.24L782.00 148.99L782.50 149.74L783.00 150.51L783.50 151.29L784.00 152.08L784.50 152.88L785.00 153.69L785.50 154.51L786.00 155.33L786.50 156.17L787.00 157.01L787.50 157.86L788.00 158.72L788.50 159.58L789.00 160.46L789.50 161.33L790.00 162.22L790.50 163.10L791.00 164.00L791.50 164.89L792.00 165.79L792.50 166.70L793.00 167.61L793.50 168.52L794.00 169.43L794.50 170.34L795.00 171.26L795.50 172.18L796.00 173.10L796.50 174.02L797.00 174.94L797.50 175.86L798.00 176.78L798.50 177.70L799.00 178.62L799.50 179.54L800.00 180.45L800.50 181.37L801.00 182.28L801.50 183.19L802.00 184.10L802.50 185.00L803.00 185.90L803.50 186.80L804.00 187.69L804.50 188.58L805.00 189.47L805.50 190.35L806.00 191.23L806.50 192.10L807.00 192.96L807.50 193.83L808.00 194.68L808.50 195.53L809.00 196.38L809.50 197.22L810.00 198.05L810.50 198.88L811.00 199.70L811.50 200.51L812.00 201.32L812.50 202.12L813.00 202.91L813.50 203.70L814.00 204.48L814.50 205.25L815.00 206.01L815.50 206.77L816.00 207.52L816.50 208.26L817.00 209.00L817.50 209.72L818.00 210.44L818.50 211.15L819.00 211.86L819.50 212.55L820.00 213.24L820.50 213.92L821.00 214.59L821.50 215.25L822.00 215.90L822.50 216.55L823.00 217.19L823.50 217.82L824.00 218.44L824.50 219.05L825.00 219.66L825.50 220.25L826.00 220.84L826.50 221.42L827.00 221.99L827.50 222.56L828.00 223.11L828.50 223.66L829.00 224.20L829.50 224.73L830.00 225.25L830.50 225.77L831.00 226.27L831.50 226.77L832.00 227.26L832.50 227.75L833.00 228.22L833.50 228.69L834.00 229.15L834.50 229.60L835.00 230.05L835.50 230.48L836.00 230.91L836.50 231.34L837.00 231.75L837.50 232.16L838.00 232.56L838.50 232.95L839.00 233.34L839.50 233.71L840.00 234.09L840.50 234.45L841.00 234.81L841.50 235.16L842.00 235.50L842.50 235.84L843.00 236.17L843.50 236.50L844.00 236.82L844.50 237.13L845.00 237.43L845.50 237.73L846.00 238.03L846.50 238.31L847.00 238.59L847.50 238.87L848.00 239.14L848.50 239.40L849.00 239.66L849.50 239.91L850.00 240.16L850.50 240.40L851.00 240.64L851.50 240.87L852.00 241.10L852.50 241.32L853.00 241.54L853.50 241.75L854.00 241.95L854.50 242.16L855.00 242.35L855.50 242.54L856.00 242.73L856.50 242.92L857.00 243.10L857.50 243.27L858.00 243.44L858.50 243.61L859.00 243.77L859.50 243.93L860.00 244.08L860.50 244.23L861.00 244.38L861.50 244.52L862.00 244.66L862.50 244.80L863.00 244.93L863.50 245.06L864.00 245.18L864.50 245.31L865.00 245.43L865.50 245.54L866.00 245.65L866.50 245.76L867.00 245.87L867.50 245.98L868.00 246.08L868.50 246.18L869.00 246.27L869.50 246.36L870.00 246.45L870.50 246.54L871.00 246.63L871.50 246.71L872.00 246.79L872.50 246.87L873.00 246.95L873.50 247.02L874.00 247.09L874.50 247.16L875.00 247.23L875.50 247.29L876.00 247.36L876.50 247.42L877.00 247.48L877.50 247.54L878.00 247.59L878.50 247.65L879.00 247.70L879.50 247.75L880.00 247.80" stroke="#7a2222"/>
<path d="M710.00 243.48L710.50 243.49L711.00 243.49L711.50 243.50L712.00 243.50L712.50 243.50L713.00 243.51L713.50 243.51L714.00 243.51L714.50 243.52L715.00 243.52L715.50 243.52L716.00 243.52L716.50 243.52L717.00 243.52L717.50 243.52L718.00 243.52L718.50 243.52L719.00 243.52L719.50 243.51L720.00 243.51L720.50 243.51L721.00 243.50L721.50 243.49L722.00 243.49L722.50 243.48L723.00 243.47L723.50 243.46L724.00 243.45L724.50 243.43L725.00 243.42L725.50 243.40L726.00 243.39L726.50 243.37L727.00 243.35L727.50 243.33L728.00 243.30L728.50 243.28L729.00 243.25L729.50 243.22L730.00 243.19L730.50 243.16L731.00 243.12L731.50 243.08L732.00 243.04L732.50 243.00L733.00 242.96L733.50 242.91L734.00 242.86L734.50 242.80L735.00 242.75L735.50 242.69L736.00 242.62L736.50 242.55L737.00 242.48L737.50 242.41L738.00 242.33L738.50 242.25L739.00 242.16L739.50 242.07L740.00 241.97L740.50 241.87L741.00 241.77L741.50 241.66L742.00 241.54L742.50 241.42L743.00 241.30L743.50 241.16L744.00 241.02L744.50 240.88L745.00 240.73L745.50 240.57L746.00 240.41L746.50 240.23L747.00 240.05L747.50 239.87L748.00 239.67L748.50 239.47L749.00 239.26L749.50 239.04L750.00 238.81L750.50 238.57L751.00 238.33L751.50 238.07L752.00 237.80L752.50 237.53L753.00 237.24L753.50 236.94L754.00 236.63L754.50 236.31L755.00 235.98L755.50 235.63L756.00 235.28L756.50 234.91L757.00 234.52L757.50 234.13L758.00 233.72L758.50 233.29L759.00 232.85L759.50 232.40L760.00 231.93L760.50 231.45L761.00 230.95L761.50 230.43L762.00 229.90L762.50 229.35L763.00 228.78L763.50 228.20L764.00 227.60L764.50 226.98L765.00 226.34L765.50 225.68L766.00 225.00L766.50 224.31L767.00 223.59L767.50 222.85L768.00 222.09L768.50 221.31L769.00 220.51L769.50 219.69L770.00 218.85L770.50 217.98L771.00 217.09L771.50 216.18L772.00 215.24L772.50 214.29L773.00 213.30L773.50 212.30L774.00 211.27L774.50 210.22L775.00 209.14L775.50 208.04L776.00 206.91L776.50 205.76L777.00 204.59L777.50 203.39L778.00 202.16L778.50 200.92L779.00 199.64L779.50 198.34L780.00 197.02L780.50 195.68L781.00 194.31L781.50 192.91L782.00 191.49L782.50 190.05L783.00 188.59L783.50 187.10L784.00 185.59L784.50 184.06L785.00 182.51L785.50 180.94L786.00 179.35L786.50 177.73L787.00 176.10L787.50 174.45L788.00 172.78L788.50 171.10L789.00 169.40L789.50 167.68L790.00 165.95L790.50 164.21L791.00 162.45L791.50 160.69L792.00 158.91L792.50 157.12L793.00 155.33L793.50 153.53L794.00 151.72L794.50 149.91L795.00 148.10L795.50 146.29L796.00 144.47L796.50 142.66L797.00 140.85L797.50 139.04L798.00 137.24L798.50 135.45L799.00 133.67L799.50 131.90L800.00 130.14L800.50 128.40L801.00 126.67L801.50 124.96L802.00 123.26L802.50 121.59L803.00 119.94L803.50 118.32L804.00 116.72L804.50 115.15L805.00 113.61L805.50 112.10L806.00 110.62L806.50 109.18L807.00 107.78L807.50 106.41L808.00 105.08L808.50 103.79L809.00 102.55L809.50 101.35L810.00 100.19L810.50 99.08L811.00 98.02L811.50 97.01L812.00 96.05L812.50 95.14L813.00 94.29L813.50 93.49L814.00 92.75L814.50 92.06L815.00 91.43L815.50 90.86L816.00 90.34L816.50 89.89L817.00 89.50L817.50 89.17L818.00 88.90L818.50 88.69L819.00 88.54L819.50 88.46L820.00 88.44L820.50 88.48L821.00 88.58L821.50 88.75L822.00 88.98L822.50 89.27L823.00 89.62L823.50 90.04L824.00 90.51L824.50 91.05L825.00 91.65L825.50 92.30L826.00 93.01L826.50 93.79L827.00 94.61L827.50 95.50L828.00 96.43L828.50 97.43L829.00 98.47L829.50 99.56L830.00 100.71L830.50 101.90L831.00 103.14L831.50 104.43L832.00 105.75L832.50 107.13L833.00 108.54L833.50 109.99L834.00 111.48L834.50 113.01L835.00 114.57L835.50 116.16L836.00 117.78L836.50 119.44L837.00 121.12L837.50 122.82L838.00 124.55L838.50 126.30L839.00 128.08L839.50 129.87L840.00 131.67L840.50 133.50L841.00 135.33L841.50 137.18L842.00 139.04L842.50 140.91L843.00 142.78L843.50 144.66L844.00 146.54L844.50 148.43L845.00 150.31L845.50 152.19L846.00 154.07L846.50 155.95L847.00 157.82L847.50 159.69L848.00 161.54L848.50 163.39L849.00 165.23L849.50 167.05L850.00 168.86L850.50 170.66L851.00 172.45L851.50 174.21L852.00 175.96L852.50 177.70L853.00 179.41L853.50 181.11L854.00 182.78L854.50 184.44L855.00 186.07L855.50 187.68L856.00 189.27L856.50 190.84L857.00 192.38L857.50 193.90L858.00 195.39L858.50 196.86L859.00 198.31L859.50 199.72L860.00 201.12L860.50 202.49L861.00 203.83L861.50 205.14L862.00 206.43L862.50 207.70L863.00 208.94L863.50 210.15L864.00 211.33L864.50 212.49L865.00 213.63L865.50 214.74L866.00 215.82L866.50 216.88L867.00 217.91L867.50 218.92L868.00 219.90L868.50 220.86L869.00 221.79L869.50 222.70L870.00 223.59L870.50 224.45L871.00 225.29L871.50 226.10L872.00 226.90L872.50 227.67L873.00 228.42L873.50 229.15L874.00 229.86L874.50 230.55L875.00 231.22L875.50 231.86L876.00 232.49L876.50 233.10L877.00 233.69L877.50 234.27L878.00 234.82L878.50 235.36L879.00 235.88L879.50 236.38L880.00 236.87L880.50 237.34L881.00 237.80L881.50 238.24L882.00 238.67L882.50 239.08L883.00 239.48L883.50 239.86L884.00 240.24L884.50 240.59L885.00 240.94L885.50 241.27L886.00 241.60L886.50 241.91L887.00 242.21L887.50 242.50L888.00 242.77L888.50 243.04L889.00 243.30L889.50 243.55L890.00 243.79L890.50 244.02L891.00 244.24L891.50 244.45L892.00 244.66L892.50 244.86L893.00 245.05L893.50 245.23L894.00 245.40L894.50 245.57L895.00 245.73L895.50 245.89L896.00 246.04L896.50 246.18L897.00 246.31L897.50 246.45L898.00 246.57L898.50 246.69L899.00 246.81L899.50 246.92L900.00 247.02L900.50 247.13L901.00 247.22L901.50 247.32L902.00 247.41L902.50 247.49L903.00 247.57L903.50 247.65L904.00 247.72L904.50 247.79L905.00 247.86L905.50 247.93L906.00 247.99L906.50 248.05L907.00 248.10L907.50 248.16L908.00 248.21L908.50 248.26L909.00 248.31L909.50 248.35L910.00 248.39L910.50 248.43L911.00 248.47L911.50 248.51L912.00 248.54L912.50 248.58L913.00 248.61" stroke="#8a3aa2"/>
<path d="M577.50 241.56L578.00 241.53L578.50 241.50L579.00 241.47L579.50 241.44L580.00 241.41L580.50 241.37L581.00 241.34L581.50 241.31L582.00 241.27L582.50 241.24L583.00 241.20L583.50 241.17L584.00 241.13L584.50 241.09L585.00 241.05L585.50 241.01L586.00 240.97L586.50 240.93L587.00 240.89L587.50 240.85L588.00 240.80L588.50 240.76L589.00 240.71L589.50 240.67L590.00 240.62L590.50 240.57L591.00 240.52L591.50 240.47L592.00 240.42L592.50 240.37L593.00 240.32L593.50 240.26L594.00 240.21L594.50 240.15L595.00 240.10L595.50 240.04L596.00 239.98L596.50 239.92L597.00 239.86L597.50 239.79L598.00 239.73L598.50 239.66L599.00 239.60L599.50 239.53L600.00 239.46L600.50 239.39L601.00 239.32L601.50 239.25L602.00 239.17L602.50 239.10L603.00 239.02L603.50 238.94L604.00 238.87L604.50 238.78L605.00 238.70L605.50 238.62L606.00 238.53L606.50 238.45L607.00 238.36L607.50 238.27L608.00 238.18L608.50 238.09L609.00 237.99L609.50 237.90L610.00 237.80L610.50 237.70L611.00 237.60L611.50 237.50L612.00 237.39L612.50 237.29L613.00 237.18L613.50 237.07L614.00 236.96L614.50 236.85L615.00 236.73L615.50 236.61L616.00 236.49L616.50 236.37L617.00 236.25L617.50 236.13L618.00 236.00L618.50 235.87L619.00 235.74L619.50 235.61L620.00 235.47L620.50 235.34L621.00 235.20L621.50 235.06L622.00 234.91L622.50 234.77L623.00 234.62L623.50 234.47L624.00 234.32L624.50 234.16L625.00 234.01L625.50 233.85L626.00 233.68L626.50 233.52L627.00 233.35L627.50 233.18L628.00 233.01L628.50 232.84L629.00 232.66L629.50 232.48L630.00 232.30L630.50 232.11L631.00 231.93L631.50 231.73L632.00 231.54L632.50 231.34L633.00 231.13L633.50 230.93L634.00 230.72L634.50 230.51L635.00 230.30L635.50 230.09L636.00 229.88L636.50 229.67L637.00 229.45L637.50 229.24L638.00 229.03L638.50 228.81L639.00 228.60L639.50 228.38L640.00 228.17L640.50 227.95L641.00 227.74L641.50 227.52L642.00 227.31L642.50 227.09L643.00 226.88L643.50 226.67L644.00 226.46L644.50 226.25L645.00 226.05L645.50 225.84L646.00 225.64L646.50 225.41L647.00 225.18L647.50 224.94L648.00 224.71L648.50 224.47L649.00 224.23L649.50 223.99L650.00 223.75L650.50 223.50L651.00 223.26L651.50 223.01L652.00 222.76L652.50 222.51L653.00 222.26L653.50 222.00L654.00 221.74L654.50 221.49L655.00 221.23L655.50 220.97L656.00 220.70L656.50 220.44L657.00 220.17L657.50 219.91L658.00 219.64L658.50 219.37L659.00 219.09L659.50 218.82L660.00 218.55L660.50 218.27L661.00 217.99L661.50 217.71L662.00 217.43L662.50 217.15L663.00 216.87L663.50 216.58L664.00 216.30L664.50 216.01L665.00 215.72L665.50 215.43L666.00 215.14L666.50 214.85L667.00 214.56L667.50 214.27L668.00 213.97L668.50 213.68L669.00 213.38L669.50 213.08L670.00 212.78L670.50 212.49L671.00 212.19L671.50 211.89L672.00 211.58L672.50 211.28L673.00 210.98L673.50 210.68L674.00 210.37L674.50 210.07L675.00 209.77L675.50 209.46L676.00 209.16L676.50 208.85L677.00 208.55L677.50 208.24L678.00 207.93L678.50 207.63L679.00 207.32L679.50 207.02L680.00 206.71L680.50 206.41L681.00 206.10L681.50 205.80L682.00 205.49L682.50 205.19L683.00 204.88L683.50 204.58L684.00 204.28L684.50 203.98L685.00 203.68L685.50 203.38L686.00 203.08L686.50 202.78L687.00 202.48L687.50 202.19L688.00 201.89L688.50 201.60L689.00 201.31L689.50 201.02L690.00 200.73L690.50 200.44L691.00 200.15L691.50 199.87L692.00 199.59L692.50 199.31L693.00 199.03L693.50 198.75L694.00 198.48L694.50 198.21L695.00 197.94L695.50 197.67L696.00 197.41L696.50 197.15L697.00 196.89L697.50 196.63L698.00 196.38L698.50 196.13L699.00 195.88L699.50 195.64L700.00 195.40L700.50 195.16L701.00 194.92L701.50 194.69L702.00 194.47L702.50 194.24L703.00 194.02L703.50 193.81L704.00 193.59L704.50 193.39L705.00 193.18L705.50 192.98L706.00 192.78L706.50 192.59L707.00 192.41L707.50 192.22L708.00 192.04L708.50 191.87L709.00 191.70L709.50 191.54L710.00 191.38L710.50 191.22L711.00 191.07L711.50 190.93L712.00 190.79L712.50 190.65L713.00 190.52L713.50 190.40L714.00 190.28L714.50 190.16L715.00 190.06L715.50 189.95L716.00 189.85L716.50 189.76L717.00 189.68L717.50 189.59L718.00 189.52L718.50 189.45L719.00 189.39L719.50 189.33L720.00 189.28L720.50 189.23L721.00 189.19L721.50 189.15L722.00 189.13L722.50 189.10L723.00 189.08L723.50 189.07L724.00 189.07L724.50 189.07L725.00 189.08L725.50 189.09L726.00 189.11L726.50 189.13L727.00 189.16L727.50 189.20L728.00 189.24L728.50 189.29L729.00 189.34L729.50 189.40L730.00 189.47L730.50 189.54L731.00 189.62L731.50 189.70L732.00 189.79L732.50 189.88L733.00 189.98L733.50 190.09L734.00 190.20L734.50 190.32L735.00 190.44L735.50 190.57L736.00 190.70L736.50 190.84L737.00 190.98L737.50 191.13L738.00 191.29L738.50 191.45L739.00 191.61L739.50 191.78L740.00 191.96L740.50 192.13L741.00 192.32L741.50 192.51L742.00 192.70L742.50 192.90L743.00 193.10L743.50 193.31L744.00 193.52L744.50 193.74L745.00 193.96L745.50 194.18L746.00 194.41L746.50 194.64L747.00 194.88L747.50 195.12L748.00 195.36L748.50 195.61L749.00 195.86L749.50 196.11L750.00 196.37L750.50 196.63L751.00 196.90L751.50 197.17L752.00 197.44L752.50 197.71L753.00 197.99L753.50 198.27L754.00 198.55L754.50 198.83L755.00 199.12L755.50 199.41L756.00 199.70L756.50 200.00L757.00 200.29L757.50 200.59L758.00 200.89L758.50 201.20L759.00 201.50L759.50 201.81L760.00 202.12L760.50 202.43L761.00 202.74L761.50 203.05L762.00 203.37L762.50 203.68L763.00 204.00L763.50 204.32L764.00 204.64L764.50 204.96L765.00 205.28L765.50 205.60L766.00 205.93L766.50 206.25L767.00 206.57L767.50 206.90L768.00 207.23L768.50 207.55L769.00 207.88L769.50 208.21L770.00 208.53L770.50 208.86L771.00 209.19L771.50 209.52L772.00 209.85L772.50 210.18L773.00 210.50L773.50 210.83L774.00 211.16L774.50 211.49L775.00 211.82L775.50 212.14L776.00 212.47L776.50 212.80L777.00 213.13L777.50 213.45L778.00 213.78L778.50 214.10L779.00 214.43L779.50 214.75L780.00 215.07L780.50 215.39L781.00 215.72L781.50 216.04L782.00 216.36L782.50 216.68L783.00 216.99L783.50 217.31L784.00 217.63L784.50 217.94L785.00 218.26L785.50 218.57L786.00 218.88L786.50 219.19L787.00 219.50L787.50 219.81L788.00 220.12L788.50 220.43L789.00 220.73L789.50 221.04L790.00 221.34L790.50 221.64L791.00 221.94L791.50 222.24L792.00 222.54L792.50 222.83L793.00 223.13L793.50 223.42L794.00 223.71L794.50 224.00L795.00 224.29L795.50 224.58L796.00 224.86L796.50 225.15L797.00 225.43L797.50 225.71L798.00 225.99L798.50 226.27L799.00 226.54L799.50 226.82L800.00 227.09L800.50 227.36L801.00 227.63L801.50 227.90L802.00 228.16L802.50 228.43L803.00 228.69L803.50 228.95L804.00 229.21L804.50 229.47L805.00 229.73L805.50 229.98L806.00 230.23L806.50 230.48L807.00 230.73L807.50 230.98L808.00 231.22L808.50 231.47L809.00 231.71L809.50 231.95L810.00 232.19L810.50 232.42L811.00 232.66L811.50 232.89L812.00 233.12L812.50 233.35L813.00 233.57L813.50 233.80L814.00 234.02L814.50 234.24L815.00 234.46L815.50 234.68L816.00 234.89L816.50 235.10L817.00 235.32L817.50 235.52L818.00 235.73L818.50 235.94L819.00 236.14L819.50 236.34L820.00 236.54L820.50 236.74L821.00 236.93L821.50 237.13L822.00 237.32L822.50 237.51L823.00 237.70L823.50 237.88L824.00 238.07L824.50 238.25L825.00 238.43L825.50 238.61L826.00 238.78L826.50 238.95L827.00 239.13L827.50 239.30L828.00 239.46L828.50 239.63L829.00 239.79L829.50 239.96L830.00 240.12L830.50 240.27L831.00 240.43L831.50 240.58L832.00 240.74L832.50 240.89L833.00 241.04L833.50 241.18L834.00 241.33L834.50 241.47L835.00 241.61L835.50 241.75L836.00 241.89L836.50 242.02L837.00 242.15L837.50 242.29L838.00 242.42L838.50 242.54L839.00 242.67L839.50 242.79L840.00 242.92L840.50 243.04L841.00 243.15L841.50 243.27L842.00 243.39L842.50 243.50L843.00 243.61L843.50 243.72L844.00 243.83L844.50 243.94L845.00 244.04L845.50 244.15L846.00 244.25L846.50 244.35L847.00 244.45L847.50 244.54L848.00 244.64L848.50 244.73L849.00 244.82L849.50 244.91L850.00 245.00L850.50 245.09L851.00 245.18L851.50 245.26L852.00 245.34L852.50 245.42L853.00 245.50L853.50 245.58L854.00 245.66L854.50 245.74L855.00 245.81L855.50 245.88L856.00 245.96L856.50 246.03L857.00 246.10L857.50 246.16L858.00 246.23L858.50 246.30L859.00 246.36L859.50 246.42L860.00 246.49L860.50 246.55L861.00 246.61L861.50 246.66L862.00 246.72L862.50 246.78L863.00 246.83L863.50 246.89L864.00 246.94L864.50 246.99L865.00 247.04L865.50 247.09L866.00 247.14L866.50 247.19L867.00 247.23L867.50 247.28L868.00 247.33L868.50 247.37L869.00 247.41L869.50 247.45L870.00 247.50L870.50 247.54L871.00 247.58L871.50 247.61L872.00 247.65L872.50 247.69L873.00 247.73L873.50 247.76L874.00 247.80L874.50 247.83L875.00 247.86L875.50 247.89L876.00 247.93L876.50 247.96L877.00 247.99L877.50 248.02L878.00 248.05L878.50 248.07L879.00 248.10L879.50 248.13L880.00 248.16L880.50 248.18L881.00 248.21L881.50 248.23L882.00 248.26L882.50 248.28L883.00 248.30L883.50 248.33L884.00 248.35L884.50 248.37L885.00 248.39L885.50 248.41L886.00 248.43L886.50 248.45L887.00 248.47L887.50 248.49L888.00 248.50L888.50 248.52L889.00 248.54L889.50 248.56L890.00 248.57L890.50 248.59L891.00 248.60L891.50 248.62L892.00 248.63L892.50 248.65L893.00 248.66L893.50 248.68L894.00 248.69L894.50 248.70L895.00 248.72L895.50 248.73L896.00 248.74L896.50 248.75L897.00 248.76L897.50 248.78L898.00 248.79L898.50 248.80L899.00 248.81L899.50 248.82L900.00 248.83L900.50 248.84L901.00 248.85L901.50 248.86L902.00 248.86L902.50 248.87L903.00 248.88L903.50 248.89L904.00 248.90L904.50 248.91L905.00 248.91L905.50 248.92L906.00 248.93L906.50 248.93L907.00 248.94L907.50 248.95L908.00 248.95L908.50 248.96L909.00 248.97L909.50 248.97L910.00 248.98L910.50 248.98L911.00 248.99L911.50 248.99L912.00 249.00L912.50 249.00L913.00 249.01" stroke="#181860"/>
<path d="M577.50 241.56L578.00 241.53L578.50 241.50L579.00 241.47L579.50 241.44L580.00 241.41L580.50 241.37L581.00 241.34L581.50 241.31L582.00 241.27L582.50 241.24L583.00 241.20L583.50 241.17L584.00 241.13L584.50 241.09L585.00 241.05L585.50 241.01L586.00 240.97L586.50 240.93L587.00 240.89L587.50 240.85L588.00 240.80L588.50 240.76L589.00 240.71L589.50 240.67L590.00 240.62L590.50 240.57L591.00 240.52L591.50 240.47L592.00 240.42L592.50 240.37L593.00 240.32L593.50 240.26L594.00 240.21L594.50 240.15L595.00 240.10L595.50 240.04L596.00 239.98L596.50 239.92L597.00 239.86L597.50 239.79L598.00 239.73L598.50 239.66L599.00 239.60L599.50 239.53L600.00 239.46L600.50 239.39L601.00 239.32L601.50 239.25L602.00 239.17L602.50 239.10L603.00 239.02L603.50 238.94L604.00 238.87L604.50 238.78L605.00 238.70L605.50 238.62L606.00 238.53L606.50 238.45L607.00 238.36L607.50 238.27L608.00 238.18L608.50 238.09L609.00 237.99L609.50 237.90L610.00 237.80L610.50 237.70L611.00 237.60L611.50 237.50L612.00 237.39L612.50 237.29L613.00 237.18L613.50 237.07L614.00 236.96L614.50 236.85L615.00 236.73L615.50 236.61L616.00 236.49L616.50 236.37L617.00 236.25L617.50 236.13L618.00 236.00L618.50 235.87L619.00 235.74L619.50 235.61L620.00 235.47L620.50 235.34L621.00 235.20L621.50 235.06L622.00 234.91L622.50 234.77L623.00 234.62L623.50 234.47L624.00 234.32L624.50 234.16L625.00 234.01L625.50 233.85L626.00 233.68L626.50 233.52L627.00 233.35L627.50 233.18L628.00 233.01L628.50 232.84L629.00 232.66L629.50 232.48L630.00 232.30L630.50 232.11L631.00 231.93L631.50 231.73L632.00 231.54L632.50 231.35L633.00 231.15L633.50 230.95L634.00 230.74L634.50 230.53L635.00 230.32L635.50 230.11L636.00 229.89L636.50 229.67L637.00 229.45L637.50 229.22L638.00 229.00L638.50 228.76L639.00 228.53L639.50 228.29L640.00 228.05L640.50 227.80L641.00 227.55L641.50 227.30L642.00 227.05L642.50 226.79L643.00 226.53L643.50 226.26L644.00 225.99L644.50 225.72L645.00 225.44L645.50 225.16L646.00 224.88L646.50 224.59L647.00 224.30L647.50 224.00L648.00 223.70L648.50 223.40L649.00 223.09L649.50 222.78L650.00 222.46L650.50 222.14L651.00 221.82L651.50 221.49L652.00 221.16L652.50 220.83L653.00 220.48L653.50 220.14L654.00 219.79L654.50 219.44L655.00 219.08L655.50 218.72L656.00 218.35L656.50 217.98L657.00 217.61L657.50 217.23L658.00 216.84L658.50 216.45L659.00 216.06L659.50 215.66L660.00 215.25L660.50 214.85L661.00 214.43L661.50 214.01L662.00 213.59L662.50 213.16L663.00 212.73L663.50 212.29L664.00 211.85L664.50 211.40L665.00 210.95L665.50 210.49L666.00 210.02L666.50 209.55L667.00 209.08L667.50 208.60L668.00 208.11L668.50 207.62L669.00 207.13L669.50 206.63L670.00 206.12L670.50 205.61L671.00 205.09L671.50 204.57L672.00 204.04L672.50 203.50L673.00 202.96L673.50 202.42L674.00 201.86L674.50 201.31L675.00 200.74L675.50 200.18L676.00 199.60L676.50 199.02L677.00 198.44L677.50 197.84L678.00 197.25L678.50 196.64L679.00 196.03L679.50 195.42L680.00 194.80L680.50 194.17L681.00 193.54L681.50 192.90L682.00 192.26L682.50 191.61L683.00 190.95L683.50 190.29L684.00 189.62L684.50 188.95L685.00 188.27L685.50 187.58L686.00 186.89L686.50 186.19L687.00 185.49L687.50 184.78L688.00 184.07L688.50 183.35L689.00 182.62L689.50 181.89L690.00 181.16L690.50 180.41L691.00 179.67L691.50 178.91L692.00 178.15L692.50 177.39L693.00 176.62L693.50 175.84L694.00 175.06L694.50 174.28L695.00 173.49L695.50 172.69L696.00 171.89L696.50 171.08L697.00 170.27L697.50 169.45L698.00 168.63L698.50 167.81L699.00 166.98L699.50 166.14L700.00 165.30L700.50 164.46L701.00 163.61L701.50 162.75L702.00 161.90L702.50 161.04L703.00 160.17L703.50 159.30L704.00 158.43L704.50 157.55L705.00 156.67L705.50 155.79L706.00 154.90L706.50 154.01L707.00 153.12L707.50 152.22L708.00 151.33L708.50 150.42L709.00 149.52L709.50 148.61L710.00 147.70L710.50 146.79L711.00 145.88L711.50 144.97L712.00 144.05L712.50 143.13L713.00 142.21L713.50 141.29L714.00 140.37L714.50 139.45L715.00 138.53L715.50 137.60L716.00 136.68L716.50 135.75L717.00 134.83L717.50 133.91L718.00 132.98L718.50 132.06L719.00 131.14L719.50 130.22L720.00 129.30L720.50 128.38L721.00 127.46L721.50 126.54L722.00 125.63L722.50 124.72L723.00 123.81L723.50 122.90L724.00 122.00L724.50 121.10L725.00 120.20L725.50 119.30L726.00 118.41L726.50 117.53L727.00 116.64L727.50 115.76L728.00 114.89L728.50 114.02L729.00 113.15L729.50 112.29L730.00 111.44L730.50 110.59L731.00 109.74L731.50 108.90L732.00 108.07L732.50 107.24L733.00 106.42L733.50 105.61L734.00 104.80L734.50 104.00L735.00 103.21L735.50 102.43L736.00 101.65L736.50 100.88L737.00 100.12L737.50 99.37L738.00 98.62L738.50 97.89L739.00 97.16L739.50 96.44L740.00 95.73L740.50 95.03L741.00 94.34L741.50 93.66L742.00 92.99L742.50 92.32L743.00 91.67L743.50 91.03L744.00 90.40L744.50 89.78L745.00 89.17L745.50 88.57L746.00 87.98L746.50 87.40L747.00 86.83L747.50 86.27L748.00 85.73L748.50 85.20L749.00 84.67L749.50 84.16L750.00 83.66L750.50 83.17L751.00 82.69L751.50 82.23L752.00 81.77L752.50 81.33L753.00 80.90L753.50 80.48L754.00 80.07L754.50 79.67L755.00 79.28L755.50 78.91L756.00 78.55L756.50 78.19L757.00 77.85L757.50 77.52L758.00 77.20L758.50 76.89L759.00 76.59L759.50 76.29L760.00 76.01L760.50 75.74L761.00 75.48L761.50 75.23L762.00 74.98L762.50 74.75L763.00 74.52L763.50 74.30L764.00 74.08L764.50 73.88L765.00 73.67L765.50 73.48L766.00 73.29L766.50 73.11L767.00 72.93L767.50 72.75L768.00 72.58L768.50 72.41L769.00 72.24L769.50 72.07L770.00 71.90L770.50 71.74L771.00 71.57L771.50 71.40L772.00 71.23L772.50 71.06L773.00 70.89L773.50 70.71L774.00 70.53L774.50 70.34L775.00 70.14L775.50 69.94L776.00 69.74L776.50 69.52L777.00 69.30L777.50 69.06L778.00 68.82L778.50 68.57L779.00 68.30L779.50 68.03L780.00 67.74L780.50 67.44L781.00 67.13L781.50 66.80L782.00 66.46L782.50 66.11L783.00 65.74L783.50 65.36L784.00 64.96L784.50 64.55L785.00 64.12L785.50 63.68L786.00 63.22L786.50 62.75L787.00 62.26L787.50 61.76L788.00 61.25L788.50 60.72L789.00 60.18L789.50 59.62L790.00 59.05L790.50 58.47L791.00 57.88L791.50 57.28L792.00 56.67L792.50 56.05L793.00 55.42L793.50 54.78L794.00 54.14L794.50 53.50L795.00 52.84L795.50 52.19L796.00 51.54L796.50 50.88L797.00 50.22L797.50 49.57L798.00 48.92L798.50 48.28L799.00 47.64L799.50 47.01L800.00 46.39L800.50 45.78L801.00 45.18L801.50 44.59L802.00 44.02L802.50 43.47L803.00 42.93L803.50 42.42L804.00 41.92L804.50 41.45L805.00 41.00L805.50 40.58L806.00 40.18L806.50 39.82L807.00 39.48L807.50 39.18L808.00 38.90L808.50 38.66L809.00 38.46L809.50 38.29L810.00 38.17L810.50 38.08L811.00 38.03L811.50 38.02L812.00 38.05L812.50 38.13L813.00 38.25L813.50 38.41L814.00 38.62L814.50 38.88L815.00 39.19L815.50 39.54L816.00 39.94L816.50 40.39L817.00 40.89L817.50 41.44L818.00 42.04L818.50 42.69L819.00 43.39L819.50 44.14L820.00 44.94L820.50 45.79L821.00 46.69L821.50 47.64L822.00 48.65L822.50 49.70L823.00 50.80L823.50 51.95L824.00 53.15L824.50 54.40L825.00 55.70L825.50 57.04L826.00 58.43L826.50 59.86L827.00 61.34L827.50 62.87L828.00 64.43L828.50 66.04L829.00 67.69L829.50 69.38L830.00 71.11L830.50 72.87L831.00 74.67L831.50 76.51L832.00 78.38L832.50 80.28L833.00 82.22L833.50 84.18L834.00 86.17L834.50 88.19L835.00 90.24L835.50 92.30L836.00 94.40L836.50 96.51L837.00 98.64L837.50 100.79L838.00 102.96L838.50 105.14L839.00 107.33L839.50 109.54L840.00 111.75L840.50 113.98L841.00 116.21L841.50 118.45L842.00 120.69L842.50 122.93L843.00 125.18L843.50 127.42L844.00 129.67L844.50 131.91L845.00 134.14L845.50 136.37L846.00 138.59L846.50 140.81L847.00 143.01L847.50 145.20L848.00 147.38L848.50 149.55L849.00 151.70L849.50 153.83L850.00 155.95L850.50 158.05L851.00 160.13L851.50 162.19L852.00 164.23L852.50 166.25L853.00 168.25L853.50 170.22L854.00 172.17L854.50 174.09L855.00 175.99L855.50 177.86L856.00 179.70L856.50 181.52L857.00 183.31L857.50 185.07L858.00 186.80L858.50 188.51L859.00 190.18L859.50 191.83L860.00 193.44L860.50 195.03L861.00 196.58L861.50 198.10L862.00 199.60L862.50 201.06L863.00 202.50L863.50 203.90L864.00 205.27L864.50 206.61L865.00 207.92L865.50 209.21L866.00 210.46L866.50 211.68L867.00 212.87L867.50 214.03L868.00 215.17L868.50 216.27L869.00 217.35L869.50 218.40L870.00 219.42L870.50 220.41L871.00 221.38L871.50 222.32L872.00 223.23L872.50 224.12L873.00 224.98L873.50 225.82L874.00 226.63L874.50 227.42L875.00 228.18L875.50 228.92L876.00 229.64L876.50 230.33L877.00 231.01L877.50 231.66L878.00 232.29L878.50 232.90L879.00 233.50L879.50 234.07L880.00 234.62L880.50 235.16L881.00 235.67L881.50 236.17L882.00 236.65L882.50 237.12L883.00 237.57L883.50 238.00L884.00 238.42L884.50 238.82L885.00 239.21L885.50 239.59L886.00 239.95L886.50 240.30L887.00 240.64L887.50 240.96L888.00 241.27L888.50 241.57L889.00 241.86L889.50 242.14L890.00 242.41L890.50 242.67L891.00 242.91L891.50 243.15L892.00 243.38L892.50 243.60L893.00 243.82L893.50 244.02L894.00 244.22L894.50 244.41L895.00 244.59L895.50 244.76L896.00 244.93L896.50 245.09L897.00 245.25L897.50 245.40L898.00 245.54L898.50 245.68L899.00 245.81L899.50 245.94L900.00 246.06L900.50 246.18L901.00 246.29L901.50 246.40L902.00 246.51L902.50 246.61L903.00 246.71L903.50 246.80L904.00 246.89L904.50 246.97L905.00 247.06L905.50 247.13L906.00 247.21L906.50 247.28L907.00 247.35L907.50 247.42L908.00 247.49L908.50 247.55L909.00 247.61L909.50 247.67L910.00 247.72L910.50 247.78L911.00 247.83L911.50 247.88L912.00 247.93L912.50 247.97L913.00 248.02" stroke="#000"/>
</g>
<g font-family="Liberation Serif" font-weight="bold" fill="#000">
<text x="36.45" y="15.40" font-size="13" letter-spacing="0.75">200000</text>
<text x="36.45" y="46.40" font-size="13" letter-spacing="0.75">180000</text>
<text x="36.45" y="77.40" font-size="13" letter-spacing="0.75">160000</text>
<text x="36.45" y="108.40" font-size="13" letter-spacing="0.75">140000</text>
<text x="36.45" y="139.40" font-size="13" letter-spacing="0.75">120000</text>
<text x="36.45" y="170.40" font-size="13" letter-spacing="0.75">100000</text>
<text x="44.20" y="201.40" font-size="13" letter-spacing="0.75">80000</text>
<text x="44.20" y="232.40" font-size="13" letter-spacing="0.75">60000</text>
<text x="44.20" y="263.40" font-size="13" letter-spacing="0.75">40000</text>
<text x="78.40" y="278.80" font-size="13" letter-spacing="0.6">535</text>
<text x="135.40" y="278.80" font-size="13" letter-spacing="0.6">534</text>
<text x="191.40" y="278.80" font-size="13" letter-spacing="0.6">533</text>
<text x="247.40" y="278.80" font-size="13" letter-spacing="0.6">532</text>
<text x="303.40" y="278.80" font-size="13" letter-spacing="0.6">531</text>
<text x="359.40" y="278.80" font-size="13" letter-spacing="0.6">530</text>
<text x="415.40" y="278.80" font-size="13" letter-spacing="0.6">529</text>
<text x="532.70" y="12.10" font-size="13" letter-spacing="0.75">40000</text>
<text x="532.70" y="61.90" font-size="13" letter-spacing="0.75">35000</text>
<text x="532.70" y="111.70" font-size="13" letter-spacing="0.75">30000</text>
<text x="532.70" y="161.50" font-size="13" letter-spacing="0.75">25000</text>
<text x="532.70" y="211.30" font-size="13" letter-spacing="0.75">20000</text>
<text x="532.70" y="261.10" font-size="13" letter-spacing="0.75">15000</text>
<text x="566.40" y="277.20" font-size="13" letter-spacing="0.6">536</text>
<text x="645.40" y="277.20" font-size="13" letter-spacing="0.6">534</text>
<text x="725.40" y="277.20" font-size="13" letter-spacing="0.6">532</text>
<text x="804.40" y="277.20" font-size="13" letter-spacing="0.6">530</text>
<text x="883.40" y="277.20" font-size="13" letter-spacing="0.6">528</text>
<text x="93.85 102.72 110.40 119.33 123.22 131.77 139.80 148.11 152.21 159.51 168.44 176.58 180.96 186.00 190.15 195.92 199.64 207.95 213.50 216.69" y="26.60" font-size="13">Phosphotungstic acid</text>
<text x="583.63 593.66 598.76 603.60 612.03 614.97 623.50 631.88 637.60 640.69 650.35 653.61 662.35 665.76 672.87 683.70 689.67 698.21 704.13 710.55 717.26 724.15 732.07 740.77 749.25 755.98 760.77 769.47 777.95 785.06 789.51 797.31 806.09 813.23 817.61 821.64 831.06 835.16" y="22.00" font-size="13">Cetylpyridinium peroxyphosphotungstate</text>
<text x="195.09 203.70 207.46 215.44 224.15 227.56 236.34 242.84 247.31 253.66 262.51 268.68 275.04 281.25 287.75 293.11 298.06 303.51 314.16" y="303.30" font-size="13">Binding energy (eV)</text>
<text x="682.09 691.40 695.06 702.99 712.50 716.01 724.24 730.74 735.36 741.36 749.71 756.08 762.24 768.65 775.15 780.21 785.46 791.01 801.81" y="301.60" font-size="13">Binding energy (eV)</text>
<g transform="translate(20.9,0) rotate(-90)">
<text x="-169.00" y="0.00" font-size="14.3" letter-spacing="0.09">Counts / s</text>
</g>
<g transform="translate(512.1,0) rotate(-90)">
<text x="-167.10" y="0.00" font-size="14.3" letter-spacing="0.09">Counts / s</text>
</g>
</g>
</svg></body></html>
